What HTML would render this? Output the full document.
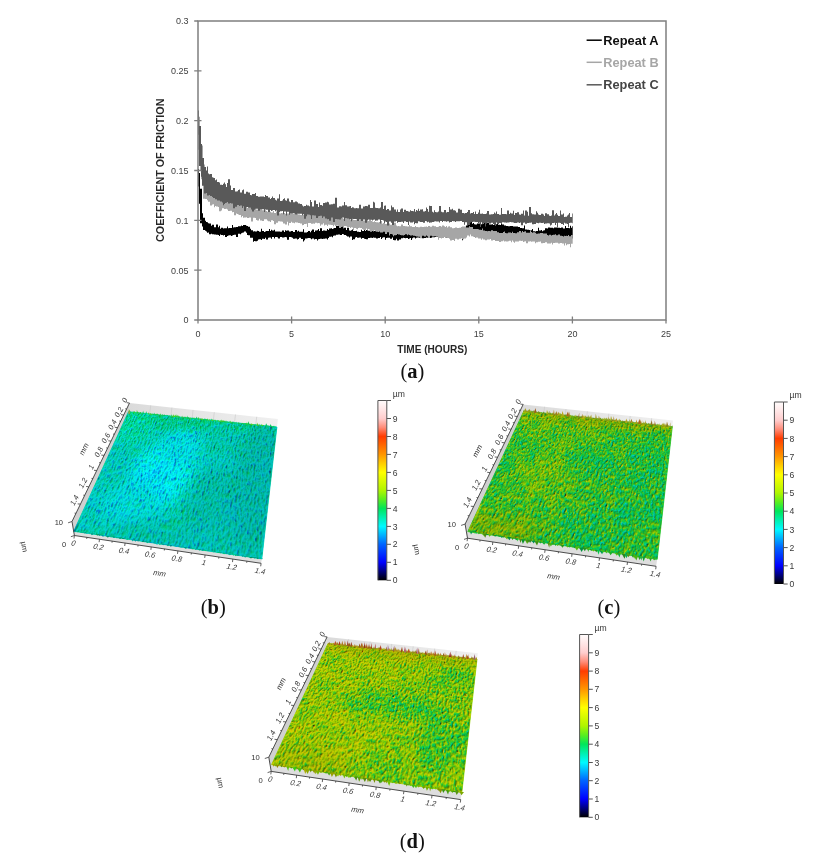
<!DOCTYPE html>
<html lang="en"><head><meta charset="utf-8"><title>Figure</title>
<style>html,body{margin:0;padding:0;background:#fff}body{width:813px;height:867px;position:relative;overflow:hidden}svg{position:absolute;left:0;top:0;display:block}.sf{position:absolute;left:0;top:0;transform-origin:0 0;overflow:hidden}</style></head><body>
<svg width="813" height="867" viewBox="0 0 813 867"><defs><linearGradient id="cbg" x1="0" y1="0" x2="0" y2="1"><stop offset="0.000" stop-color="#fffcfc"/><stop offset="0.050" stop-color="#ffe6e6"/><stop offset="0.100" stop-color="#ffcdcd"/><stop offset="0.150" stop-color="#ff8c78"/><stop offset="0.200" stop-color="#ff3c00"/><stop offset="0.250" stop-color="#ff6900"/><stop offset="0.300" stop-color="#ff9600"/><stop offset="0.350" stop-color="#ffcd00"/><stop offset="0.400" stop-color="#ffff00"/><stop offset="0.450" stop-color="#d7fa00"/><stop offset="0.500" stop-color="#aff500"/><stop offset="0.550" stop-color="#5aee1e"/><stop offset="0.600" stop-color="#00e65a"/><stop offset="0.650" stop-color="#00f0af"/><stop offset="0.700" stop-color="#00faff"/><stop offset="0.750" stop-color="#00afff"/><stop offset="0.800" stop-color="#0064ff"/><stop offset="0.850" stop-color="#0032ff"/><stop offset="0.900" stop-color="#0000ff"/><stop offset="0.950" stop-color="#000080"/><stop offset="1.000" stop-color="#000000"/></linearGradient>
<linearGradient id="bw" x1="0" y1="0" x2="1" y2="0"><stop offset="0" stop-color="#dadada"/><stop offset="0.5" stop-color="#e6e6e6"/><stop offset="1" stop-color="#f0f0f0"/></linearGradient></defs><path d="M129.5 403.0L277.9 419.1L276.5 430.4L128.1 415.4Z" fill="url(#bw)"/>
<path d="M150.7 405.3L149.3 417.6M171.9 407.6L170.5 419.7M193.1 409.9L191.7 421.8M214.3 412.2L212.9 424.0M235.5 414.5L234.1 426.1M256.7 416.8L255.3 428.3" fill="none" stroke="#c9c9c9" stroke-width="0.6"/>
<path d="M129.5 403.0L72.0 521.5L74.4 535.5L128.1 415.4Z" fill="#d0d0d0"/>
<path d="M73.7 531.3L261.8 558.9L261.1 563.3L74.4 535.5Z" fill="#dedede"/>
<path d="M128.5 411.7L276.9 427.0L261.8 558.9L73.7 531.3Z" fill="#00cfb0" stroke="#00cfb0" stroke-width="0.8"/>
<path d="M523.2 404.4L673.0 420.6L671.6 432.0L521.7 416.9Z" fill="url(#bw)"/>
<path d="M544.6 406.7L543.1 419.1M566.0 409.0L564.5 421.2M587.4 411.3L585.9 423.4M608.8 413.7L607.4 425.6M630.2 416.0L628.8 427.7M651.6 418.3L650.2 429.9" fill="none" stroke="#c9c9c9" stroke-width="0.6"/>
<path d="M523.2 404.4L465.1 524.1L467.5 538.2L521.7 416.9Z" fill="#d0d0d0"/>
<path d="M467.8 531.6L657.2 559.3L656.1 566.3L467.5 538.2Z" fill="#dedede"/>
<path d="M523.8 411.0L672.3 426.7L657.2 559.3L467.8 531.6Z" fill="#2ec82e" stroke="#2ec82e" stroke-width="0.8"/>
<path d="M327.1 636.9L477.8 653.3L476.3 664.7L325.7 649.5Z" fill="url(#bw)"/>
<path d="M348.6 639.2L347.2 651.7M370.2 641.6L368.7 653.9M391.7 643.9L390.2 656.0M413.2 646.3L411.7 658.2M434.7 648.6L433.3 660.4M456.2 650.9L454.8 662.5" fill="none" stroke="#c9c9c9" stroke-width="0.6"/>
<path d="M327.1 636.9L268.8 757.2L271.2 771.4L325.7 649.5Z" fill="#d0d0d0"/>
<path d="M271.6 764.6L461.8 792.5L460.7 799.6L271.2 771.4Z" fill="#dedede"/>
<path d="M328.0 643.5L477.0 659.2L461.8 792.5L271.6 764.6Z" fill="#95d000" stroke="#95d000" stroke-width="0.8"/></svg>
<div class="sf" style="width:220px;height:220px;transform:matrix3d(0.6138795,-0.02399776,0,-0.0002190905,-0.3211731,0.02447611,0,-0.0009771423,0,0,1,0,128.499,411.701,0,1)"><svg width="220" height="220" viewBox="0 0 220 220"><defs><filter id="fb" x="0" y="0" width="220" height="220" filterUnits="userSpaceOnUse" color-interpolation-filters="sRGB"><feGaussianBlur in="SourceGraphic" stdDeviation="9" result="b0"/><feColorMatrix in="b0" type="matrix" values="1 0 0 0 0 1 0 0 0 0 1 0 0 0 0 0 0 0 0 1" result="base"/><feColorMatrix in="b0" type="matrix" values="0 1 0 0 0 0 1 0 0 0 0 1 0 0 0 0 0 0 0 1" result="bri"/><feTurbulence type="fractalNoise" baseFrequency="0.48 0.12" numOctaves="3" seed="3" result="t"/><feColorMatrix in="t" type="matrix" values="0.15 0 0 0 0.175 0.15 0 0 0 0.175 0.15 0 0 0 0.175 0 0 0 0 1" result="n"/><feColorMatrix in="t" type="matrix" values="0 0 0.28 0 0.8684 0 0 0.28 0 0.8684 0 0 0.28 0 0.8684 0 0 0 0 1" result="ns"/><feTurbulence type="fractalNoise" baseFrequency="0.03 0.02" numOctaves="2" seed="10" result="tl"/><feColorMatrix in="tl" type="matrix" values="0.05 0 0 0 0.225 0.05 0 0 0 0.225 0.05 0 0 0 0.225 0 0 0 0 1" result="nl"/><feComposite in="base" in2="n" operator="arithmetic" k1="0" k2="1" k3="1" k4="-0.25" result="h1"/><feComposite in="h1" in2="nl" operator="arithmetic" k1="0" k2="1" k3="1" k4="-0.25" result="h2"/><feComposite in="h2" in2="ns" operator="arithmetic" k1="0" k2="1" k3="1" k4="-1" result="h"/><feComponentTransfer in="h" result="col"><feFuncR type="table" tableValues="0.000 0.000 0.000 0.000 0.000 0.000 0.000 0.000 0.000 0.353 0.686 0.843 1.000 1.000 1.000 1.000 1.000 1.000 1.000 1.000 1.000"/><feFuncG type="table" tableValues="0.000 0.000 0.000 0.196 0.392 0.686 0.980 0.941 0.902 0.933 0.961 0.980 1.000 0.804 0.588 0.412 0.235 0.549 0.804 0.902 0.988"/><feFuncB type="table" tableValues="0.000 0.502 1.000 1.000 1.000 1.000 1.000 0.686 0.353 0.118 0.000 0.000 0.000 0.000 0.000 0.000 0.000 0.471 0.804 0.902 0.988"/></feComponentTransfer><feComposite in="n" in2="ns" operator="arithmetic" k1="0" k2="1" k3="1" k4="-0.7" result="nn"/><feConvolveMatrix in="nn" order="3" kernelMatrix="-1 -0.5 0 -0.5 0 0.5 0 0.5 1" divisor="1" bias="0.5" preserveAlpha="true" edgeMode="duplicate" result="sh"/><feComposite in="col" in2="sh" operator="arithmetic" k1="2" k2="0" k3="0" k4="0" result="m1"/><feComposite in="m1" in2="bri" operator="arithmetic" k1="1.05" k2="0" k3="0" k4="0" result="m2"/><feGaussianBlur in="m2" stdDeviation="0.65"/></filter></defs><g filter="url(#fb)"><rect width="220" height="220" fill="#54cc00"/><ellipse cx="80" cy="110" rx="40" ry="60" fill="#4eed00"/><ellipse cx="95" cy="60" rx="30" ry="35" fill="#4fe000"/><ellipse cx="55" cy="170" rx="35" ry="35" fill="#50db00"/><ellipse cx="110" cy="10" rx="120" ry="16" fill="#5dcc00"/><ellipse cx="200" cy="110" rx="30" ry="110" fill="#54b800"/><ellipse cx="150" cy="150" rx="30" ry="60" fill="#54bd00"/><ellipse cx="20" cy="30" rx="28" ry="36" fill="#5bd900"/><ellipse cx="120" cy="205" rx="80" ry="18" fill="#54c200"/><ellipse cx="150" cy="45" rx="30" ry="25" fill="#57c700"/></g></svg></div>
<div class="sf" style="width:220px;height:220px;transform:matrix3d(0.5366528,-0.01662097,0,-0.0002056831,-0.7216362,0.01717812,0,-0.0009983266,0,0,1,0,523.7855,411.0288,0,1)"><svg width="220" height="220" viewBox="0 0 220 220"><defs><filter id="fc" x="0" y="0" width="220" height="220" filterUnits="userSpaceOnUse" color-interpolation-filters="sRGB"><feGaussianBlur in="SourceGraphic" stdDeviation="10" result="b0"/><feColorMatrix in="b0" type="matrix" values="1 0 0 0 0 1 0 0 0 0 1 0 0 0 0 0 0 0 0 1" result="base"/><feColorMatrix in="b0" type="matrix" values="0 1 0 0 0 0 1 0 0 0 0 1 0 0 0 0 0 0 0 1" result="bri"/><feTurbulence type="fractalNoise" baseFrequency="0.40 0.17" numOctaves="3" seed="5" result="t"/><feColorMatrix in="t" type="matrix" values="0.3 0 0 0 0.1 0.3 0 0 0 0.1 0.3 0 0 0 0.1 0 0 0 0 1" result="n"/><feColorMatrix in="t" type="matrix" values="0 0 0.9 0 -0.594 0 0 0.9 0 -0.594 0 0 0.9 0 -0.594 0 0 0 0 1" result="ns"/><feTurbulence type="fractalNoise" baseFrequency="0.06 0.04" numOctaves="2" seed="12" result="tl"/><feColorMatrix in="tl" type="matrix" values="0.1 0 0 0 0.2 0.1 0 0 0 0.2 0.1 0 0 0 0.2 0 0 0 0 1" result="nl"/><feComposite in="base" in2="n" operator="arithmetic" k1="0" k2="1" k3="1" k4="-0.25" result="h1"/><feComposite in="h1" in2="nl" operator="arithmetic" k1="0" k2="1" k3="1" k4="-0.25" result="h2"/><feComposite in="h2" in2="ns" operator="arithmetic" k1="0" k2="1" k3="1" k4="0" result="h"/><feComponentTransfer in="h" result="col"><feFuncR type="table" tableValues="0.000 0.000 0.000 0.000 0.000 0.000 0.000 0.000 0.000 0.353 0.686 0.843 1.000 1.000 1.000 1.000 1.000 1.000 1.000 1.000 1.000"/><feFuncG type="table" tableValues="0.000 0.000 0.000 0.196 0.392 0.686 0.980 0.941 0.902 0.933 0.961 0.980 1.000 0.804 0.588 0.412 0.235 0.549 0.804 0.902 0.988"/><feFuncB type="table" tableValues="0.000 0.502 1.000 1.000 1.000 1.000 1.000 0.686 0.353 0.118 0.000 0.000 0.000 0.000 0.000 0.000 0.000 0.471 0.804 0.902 0.988"/></feComponentTransfer><feComposite in="n" in2="ns" operator="arithmetic" k1="0" k2="1" k3="1" k4="0" result="nn"/><feConvolveMatrix in="nn" order="3" kernelMatrix="-0.9 -0.45 0 -0.45 0 0.45 0 0.45 0.9" divisor="1" bias="0.5" preserveAlpha="true" edgeMode="duplicate" result="sh"/><feComposite in="col" in2="sh" operator="arithmetic" k1="2" k2="0" k3="0" k4="0" result="m1"/><feComposite in="m1" in2="bri" operator="arithmetic" k1="0.9875" k2="0" k3="0" k4="0" result="m2"/><feGaussianBlur in="m2" stdDeviation="0.65"/></filter></defs><g filter="url(#fc)"><rect width="220" height="220" fill="#6ecc00"/><ellipse cx="66" cy="120" rx="40" ry="45" fill="#77cc00"/><ellipse cx="195" cy="110" rx="30" ry="90" fill="#69cc00"/><ellipse cx="150" cy="190" rx="50" ry="30" fill="#69cc00"/><ellipse cx="120" cy="90" rx="30" ry="30" fill="#6acc00"/><ellipse cx="60" cy="30" rx="70" ry="30" fill="#74cc00"/><ellipse cx="40" cy="205" rx="50" ry="18" fill="#7cbd00"/><ellipse cx="110" cy="5" rx="120" ry="9" fill="#85b200"/></g></svg></div>
<div class="sf" style="width:220px;height:220px;transform:matrix3d(0.5797153,-0.06344358,0,-0.0002047717,-0.5277664,-0.2142095,0,-0.001000147,0,0,1,0,327.9717,643.4731,0,1)"><svg width="220" height="220" viewBox="0 0 220 220"><defs><filter id="fd" x="0" y="0" width="220" height="220" filterUnits="userSpaceOnUse" color-interpolation-filters="sRGB"><feGaussianBlur in="SourceGraphic" stdDeviation="10" result="b0"/><feColorMatrix in="b0" type="matrix" values="1 0 0 0 0 1 0 0 0 0 1 0 0 0 0 0 0 0 0 1" result="base"/><feColorMatrix in="b0" type="matrix" values="0 1 0 0 0 0 1 0 0 0 0 1 0 0 0 0 0 0 0 1" result="bri"/><feTurbulence type="fractalNoise" baseFrequency="0.40 0.17" numOctaves="3" seed="8" result="t"/><feColorMatrix in="t" type="matrix" values="0.32 0 0 0 0.09 0.32 0 0 0 0.09 0.32 0 0 0 0.09 0 0 0 0 1" result="n"/><feColorMatrix in="t" type="matrix" values="0 0 0.9 0 -0.594 0 0 0.9 0 -0.594 0 0 0.9 0 -0.594 0 0 0 0 1" result="ns"/><feTurbulence type="fractalNoise" baseFrequency="0.06 0.04" numOctaves="2" seed="15" result="tl"/><feColorMatrix in="tl" type="matrix" values="0.1 0 0 0 0.2 0.1 0 0 0 0.2 0.1 0 0 0 0.2 0 0 0 0 1" result="nl"/><feComposite in="base" in2="n" operator="arithmetic" k1="0" k2="1" k3="1" k4="-0.25" result="h1"/><feComposite in="h1" in2="nl" operator="arithmetic" k1="0" k2="1" k3="1" k4="-0.25" result="h2"/><feComposite in="h2" in2="ns" operator="arithmetic" k1="0" k2="1" k3="1" k4="0" result="h"/><feComponentTransfer in="h" result="col"><feFuncR type="table" tableValues="0.000 0.000 0.000 0.000 0.000 0.000 0.000 0.000 0.000 0.353 0.686 0.843 1.000 1.000 1.000 1.000 1.000 1.000 1.000 1.000 1.000"/><feFuncG type="table" tableValues="0.000 0.000 0.000 0.196 0.392 0.686 0.980 0.941 0.902 0.933 0.961 0.980 1.000 0.804 0.588 0.412 0.235 0.549 0.804 0.902 0.988"/><feFuncB type="table" tableValues="0.000 0.502 1.000 1.000 1.000 1.000 1.000 0.686 0.353 0.118 0.000 0.000 0.000 0.000 0.000 0.000 0.000 0.471 0.804 0.902 0.988"/></feComponentTransfer><feComposite in="n" in2="ns" operator="arithmetic" k1="0" k2="1" k3="1" k4="0" result="nn"/><feConvolveMatrix in="nn" order="3" kernelMatrix="-0.9 -0.45 0 -0.45 0 0.45 0 0.45 0.9" divisor="1" bias="0.5" preserveAlpha="true" edgeMode="duplicate" result="sh"/><feComposite in="col" in2="sh" operator="arithmetic" k1="2" k2="0" k3="0" k4="0" result="m1"/><feComposite in="m1" in2="bri" operator="arithmetic" k1="1.025" k2="0" k3="0" k4="0" result="m2"/><feGaussianBlur in="m2" stdDeviation="0.65"/></filter></defs><g filter="url(#fd)"><rect width="220" height="220" fill="#80cc00"/><ellipse cx="120" cy="105" rx="60" ry="25" fill="#71cc00"/><ellipse cx="190" cy="150" rx="30" ry="50" fill="#71cc00"/><ellipse cx="60" cy="50" rx="50" ry="35" fill="#82cc00"/><ellipse cx="60" cy="165" rx="50" ry="35" fill="#82cc00"/><ellipse cx="150" cy="200" rx="50" ry="20" fill="#77cc00"/><ellipse cx="110" cy="5" rx="120" ry="9" fill="#8fb200"/><ellipse cx="185" cy="50" rx="30" ry="30" fill="#75cc00"/><ellipse cx="45" cy="205" rx="45" ry="16" fill="#87bf00"/></g></svg></div>
<svg width="813" height="867" viewBox="0 0 813 867">
<path d="M198.0 169.0V169.0H199.0V173.1H200.0V188.7H202.0V213.2H203.0V217.7H205.0V220.8H206.0V222.0H207.0V222.3H208.0V223.2H209.0V223.5H211.0V225.7H212.0V224.7H214.0V227.3H216.0V224.4H218.0V227.2H219.0V225.8H220.0V228.7H221.0V227.8H223.0V228.4H224.0V228.3H225.0V228.2H227.0V226.6H228.0V228.3H229.0V228.0H231.0V227.9H232.0V225.0H233.0V227.6H234.0V227.3H236.0V227.1H238.0V226.2H240.0V226.3H241.0V225.5H242.0V225.9H243.0V224.9H244.0V225.1H246.0V225.8H247.0V226.1H248.0V226.7H250.0V228.7H251.0V230.3H253.0V231.4H254.0V231.3H255.0V231.5H257.0V230.8H258.0V231.0H259.0V231.7H261.0V228.8H262.0V230.9H264.0V232.0H265.0V231.4H266.0V230.9H268.0V231.0H269.0V228.9H270.0V230.9H271.0V229.8H272.0V230.5H274.0V229.8H275.0V231.4H277.0V231.5H278.0V231.4H280.0V231.7H282.0V230.6H284.0V232.0H285.0V230.2H286.0V230.8H287.0V230.4H289.0V231.4H291.0V230.9H292.0V231.0H293.0V231.9H295.0V229.9H297.0V231.5H298.0V230.7H299.0V231.7H301.0V231.8H303.0V229.3H304.0V232.6H305.0V232.6H307.0V232.1H308.0V230.9H310.0V232.3H311.0V230.8H312.0V229.6H314.0V231.9H315.0V230.4H317.0V230.3H318.0V228.9H319.0V231.1H320.0V228.3H322.0V230.9H323.0V230.6H325.0V230.8H327.0V229.1H328.0V230.1H329.0V228.4H331.0V228.3H332.0V229.1H333.0V228.6H334.0V228.1H335.0V227.9H336.0V226.0H338.0V225.7H340.0V226.7H342.0V226.1H343.0V228.3H344.0V227.8H346.0V230.0H347.0V227.7H349.0V230.5H350.0V230.8H351.0V230.3H352.0V229.4H353.0V231.0H355.0V231.0H356.0V230.7H357.0V231.7H359.0V231.9H361.0V229.8H362.0V231.1H364.0V228.3H365.0V230.9H366.0V229.9H368.0V230.7H370.0V231.4H372.0V230.7H373.0V230.9H374.0V231.1H376.0V230.7H378.0V230.6H380.0V231.4H381.0V231.1H382.0V228.5H383.0V230.3H385.0V232.1H386.0V232.0H387.0V229.5H389.0V231.9H390.0V232.2H392.0V232.2H393.0V232.3H394.0V229.0H396.0V232.5H397.0V232.4H399.0V229.6H401.0V232.1H403.0V232.1H404.0V232.4H405.0V231.7H406.0V232.1H408.0V232.1H409.0V232.3H410.0V232.2H411.0V231.4H412.0V233.1H413.0V232.5H415.0V232.6H416.0V233.1H417.0V233.4H419.0V232.2H421.0V231.9H422.0V233.3H424.0V233.3H426.0V233.9H427.0V232.8H428.0V233.4H430.0V232.3H431.0V232.9H432.0V232.0H433.0V231.2H435.0V233.0H437.0V233.4H439.0V233.1H440.0V232.1H441.0V233.4H443.0V233.5H445.0V230.5H446.0V232.6H448.0V231.9H449.0V233.2H450.0V233.0H452.0V233.0H453.0V232.9H455.0V231.4H457.0V232.0H459.0V231.0H461.0V232.4H462.0V232.4H463.0V233.3H464.0V233.7H465.0V230.0H466.0V225.5H467.0V223.5H468.0V223.0H469.0V223.6H470.0V222.3H471.0V221.9H472.0V223.8H473.0V223.1H474.0V224.2H475.0V224.4H477.0V223.4H478.0V224.0H479.0V223.5H481.0V224.3H482.0V223.0H483.0V223.4H484.0V221.8H485.0V223.2H487.0V222.9H489.0V224.4H490.0V224.5H491.0V224.4H492.0V224.2H493.0V225.0H495.0V224.2H497.0V223.8H498.0V224.8H500.0V224.9H501.0V224.1H502.0V224.4H504.0V225.5H506.0V225.9H508.0V226.3H510.0V225.9H511.0V225.9H513.0V226.6H515.0V226.5H516.0V226.4H518.0V227.1H519.0V226.9H520.0V227.9H522.0V228.2H524.0V225.5H525.0V229.4H527.0V229.8H529.0V230.0H530.0V230.4H531.0V230.2H532.0V228.9H533.0V231.3H535.0V231.6H536.0V230.9H538.0V227.8H539.0V230.4H541.0V230.0H542.0V231.3H543.0V230.6H544.0V230.3H545.0V228.3H547.0V228.6H548.0V227.4H550.0V227.7H552.0V227.7H553.0V228.2H554.0V227.5H556.0V227.6H558.0V227.7H559.0V227.7H560.0V228.1H561.0V227.5H563.0V228.4H564.0V228.6H565.0V225.9H566.0V228.1H567.0V228.1H569.0V228.2H570.0V225.8H571.0V227.7H572.0V226.3H572.7V238.6H572.0V240.6H571.0V241.8H570.0V240.5H569.0V239.0H567.0V238.5H566.0V238.6H565.0V240.1H564.0V239.8H563.0V240.2H561.0V238.2H560.0V238.4H559.0V238.6H558.0V238.2H556.0V239.1H554.0V238.1H553.0V238.6H552.0V238.1H550.0V240.9H548.0V237.7H547.0V236.8H545.0V236.0H544.0V236.2H543.0V236.4H542.0V235.9H541.0V236.9H539.0V238.2H538.0V235.8H536.0V236.6H535.0V237.2H533.0V239.2H532.0V236.5H531.0V238.8H530.0V238.0H529.0V235.7H527.0V238.3H525.0V236.2H524.0V236.0H522.0V236.7H520.0V236.7H519.0V236.3H518.0V236.2H516.0V236.3H515.0V235.8H513.0V236.2H511.0V235.3H510.0V235.6H508.0V235.8H506.0V235.2H504.0V235.7H502.0V235.6H501.0V236.4H500.0V236.2H498.0V235.6H497.0V235.5H495.0V235.2H493.0V237.6H492.0V235.5H491.0V234.5H490.0V235.7H489.0V234.0H487.0V234.2H485.0V234.5H484.0V233.7H483.0V235.2H482.0V234.7H481.0V236.8H479.0V233.2H478.0V233.9H477.0V233.4H475.0V236.4H474.0V233.2H473.0V232.7H472.0V232.6H471.0V232.5H470.0V233.0H469.0V231.9H468.0V231.7H467.0V235.0H466.0V235.6H465.0V237.0H464.0V236.9H463.0V240.2H462.0V237.3H461.0V237.7H459.0V238.1H457.0V237.0H455.0V237.1H453.0V236.7H452.0V237.4H450.0V237.4H449.0V238.1H448.0V237.6H446.0V237.4H445.0V237.0H443.0V237.8H441.0V237.2H440.0V236.9H439.0V237.0H437.0V237.0H435.0V237.2H433.0V237.2H432.0V237.8H431.0V237.9H430.0V238.0H428.0V237.7H427.0V237.6H426.0V237.9H424.0V238.2H422.0V237.7H421.0V237.7H419.0V237.6H417.0V237.8H416.0V238.4H415.0V237.5H413.0V238.2H412.0V239.9H411.0V238.0H410.0V238.6H409.0V238.9H408.0V238.1H406.0V238.3H405.0V238.0H404.0V237.7H403.0V238.3H401.0V239.6H399.0V240.6H397.0V238.7H396.0V240.3H394.0V239.9H393.0V237.6H392.0V238.8H390.0V237.8H389.0V237.8H387.0V238.1H386.0V239.8H385.0V237.2H383.0V237.7H382.0V238.9H381.0V237.1H380.0V238.1H378.0V238.5H376.0V237.7H374.0V237.6H373.0V237.9H372.0V237.7H370.0V237.9H368.0V239.3H366.0V238.9H365.0V238.8H364.0V237.9H362.0V238.7H361.0V237.6H359.0V237.8H357.0V236.9H356.0V237.4H355.0V239.2H353.0V240.0H352.0V236.6H351.0V236.4H350.0V237.6H349.0V236.4H347.0V235.7H346.0V234.9H344.0V234.3H343.0V233.9H342.0V235.1H340.0V234.4H338.0V234.8H336.0V235.4H335.0V235.6H334.0V235.8H333.0V237.2H332.0V236.6H331.0V236.7H329.0V238.1H328.0V239.6H327.0V238.6H325.0V238.7H323.0V239.0H322.0V238.8H320.0V239.0H319.0V239.2H318.0V240.4H317.0V239.1H315.0V239.5H314.0V238.4H312.0V239.3H311.0V238.3H310.0V238.1H308.0V238.2H307.0V238.6H305.0V240.3H304.0V241.4H303.0V238.9H301.0V237.7H299.0V238.9H298.0V239.5H297.0V238.4H295.0V238.7H293.0V237.7H292.0V237.2H291.0V237.1H289.0V239.8H287.0V237.3H286.0V237.1H285.0V237.2H284.0V237.6H282.0V237.0H280.0V238.6H278.0V237.3H277.0V237.1H275.0V238.4H274.0V236.9H272.0V238.8H271.0V237.6H270.0V237.4H269.0V237.8H268.0V239.6H266.0V237.8H265.0V239.0H264.0V238.7H262.0V240.1H261.0V239.3H259.0V239.6H258.0V240.8H257.0V241.3H255.0V240.9H254.0V241.7H253.0V237.8H251.0V237.7H250.0V235.3H248.0V235.1H247.0V232.8H246.0V231.6H244.0V232.5H243.0V232.7H242.0V233.2H241.0V234.3H240.0V233.7H238.0V236.9H236.0V234.7H234.0V234.9H233.0V235.4H232.0V236.0H231.0V235.3H229.0V235.6H228.0V235.9H227.0V236.9H225.0V235.0H224.0V235.6H223.0V235.0H221.0V234.6H220.0V235.9H219.0V234.9H218.0V234.8H216.0V234.4H214.0V234.2H212.0V233.7H211.0V234.3H209.0V232.6H208.0V232.7H207.0V231.6H206.0V230.8H205.0V230.1H203.0V226.6H202.0V223.3H200.0V203.8H199.0V186.5H198.0Z" fill="#000"/>
<path d="M198.0 116.7V116.7H200.0V130.0H201.0V145.4H203.0V164.4H205.0V170.9H207.0V176.6H208.0V179.4H210.0V185.4H212.0V185.2H213.0V188.0H214.0V189.9H215.0V190.5H216.0V192.0H218.0V193.3H219.0V195.5H221.0V196.3H222.0V196.9H224.0V197.3H226.0V198.3H227.0V198.3H228.0V199.1H230.0V198.8H232.0V198.0H233.0V201.0H234.0V202.0H236.0V202.7H237.0V203.6H238.0V204.4H239.0V203.4H240.0V204.7H241.0V203.8H242.0V204.7H243.0V206.4H244.0V207.2H246.0V206.6H247.0V207.9H249.0V207.6H251.0V207.5H253.0V208.0H255.0V207.9H256.0V209.5H257.0V209.6H259.0V209.9H260.0V209.5H262.0V210.3H264.0V210.3H266.0V210.9H267.0V211.7H268.0V211.6H270.0V211.8H271.0V212.5H273.0V211.1H274.0V212.9H276.0V211.6H278.0V213.2H280.0V213.5H281.0V213.1H282.0V213.2H283.0V213.0H285.0V213.7H287.0V213.6H288.0V213.5H289.0V213.0H291.0V213.2H292.0V213.4H294.0V212.9H295.0V214.2H296.0V213.2H297.0V213.8H298.0V214.5H300.0V214.9H302.0V214.6H303.0V215.0H304.0V214.4H306.0V214.9H307.0V215.0H308.0V214.7H309.0V214.2H311.0V213.9H313.0V214.3H314.0V214.1H315.0V214.4H316.0V214.5H317.0V214.8H318.0V214.6H319.0V215.5H320.0V215.1H321.0V215.1H323.0V215.3H324.0V215.7H325.0V214.3H327.0V213.8H328.0V216.3H329.0V216.4H331.0V216.7H333.0V217.2H334.0V217.5H335.0V216.7H336.0V217.2H337.0V218.3H338.0V216.6H339.0V218.9H341.0V217.4H343.0V218.8H344.0V218.7H346.0V218.8H347.0V217.5H349.0V219.4H350.0V219.5H351.0V219.8H352.0V218.1H353.0V219.8H354.0V220.0H356.0V219.6H357.0V219.5H358.0V220.0H359.0V220.2H360.0V219.8H361.0V220.5H362.0V220.0H363.0V220.5H364.0V220.4H365.0V220.2H366.0V219.7H367.0V219.7H368.0V220.9H369.0V218.5H370.0V219.2H371.0V221.1H372.0V221.4H373.0V222.0H374.0V221.3H375.0V222.0H376.0V222.3H378.0V222.6H379.0V222.1H380.0V221.1H382.0V223.7H383.0V222.9H385.0V223.9H387.0V224.5H388.0V223.9H389.0V223.4H390.0V224.7H392.0V224.4H393.0V225.1H394.0V222.8H396.0V225.6H397.0V226.2H398.0V226.1H399.0V226.3H400.0V226.2H401.0V224.6H403.0V226.0H404.0V225.9H405.0V226.3H407.0V226.6H408.0V226.6H409.0V224.9H410.0V226.2H412.0V226.9H413.0V226.9H415.0V226.0H416.0V227.1H418.0V227.3H420.0V226.7H422.0V226.9H424.0V226.8H426.0V226.5H427.0V227.0H428.0V226.0H430.0V226.7H432.0V225.7H434.0V226.3H436.0V226.9H438.0V226.7H439.0V226.0H441.0V226.8H442.0V225.5H444.0V226.3H445.0V227.1H446.0V225.9H447.0V227.4H448.0V226.4H449.0V226.2H450.0V227.2H452.0V228.2H454.0V228.0H455.0V227.5H457.0V228.1H459.0V227.7H461.0V227.0H462.0V226.4H464.0V226.5H466.0V227.5H467.0V227.4H469.0V226.3H470.0V227.1H471.0V227.1H473.0V229.1H475.0V229.0H476.0V229.1H478.0V229.2H479.0V229.8H480.0V229.8H481.0V229.9H482.0V228.6H483.0V230.5H485.0V230.9H487.0V231.3H488.0V231.1H490.0V231.2H491.0V230.3H493.0V230.9H495.0V231.1H497.0V232.3H499.0V233.0H501.0V232.9H503.0V232.1H504.0V231.6H505.0V232.9H506.0V233.2H508.0V232.6H509.0V232.6H511.0V233.0H512.0V231.7H513.0V233.1H514.0V233.1H515.0V233.3H517.0V232.3H519.0V230.9H521.0V232.4H522.0V231.0H523.0V231.9H524.0V231.5H525.0V231.3H526.0V232.8H528.0V232.8H530.0V231.1H531.0V232.1H532.0V232.7H533.0V232.3H535.0V232.8H536.0V233.7H538.0V233.6H540.0V233.1H541.0V233.1H543.0V233.5H545.0V233.6H547.0V234.9H548.0V235.6H549.0V234.7H551.0V235.6H552.0V234.9H553.0V234.8H555.0V234.2H556.0V235.3H558.0V234.6H560.0V235.8H562.0V236.0H563.0V236.4H564.0V235.7H565.0V235.9H566.0V235.8H567.0V236.0H568.0V234.9H569.0V236.2H570.0V236.2H571.0V235.1H572.7V243.8H571.0V247.2H570.0V244.1H569.0V244.2H568.0V244.3H567.0V245.3H566.0V243.2H565.0V245.5H564.0V243.6H563.0V243.5H562.0V243.1H560.0V243.5H558.0V242.7H556.0V242.7H555.0V242.9H553.0V244.5H552.0V242.7H551.0V243.5H549.0V243.5H548.0V243.6H547.0V242.2H545.0V242.9H543.0V243.3H541.0V241.6H540.0V241.7H538.0V242.2H536.0V243.3H535.0V241.6H533.0V241.6H532.0V241.8H531.0V241.2H530.0V241.6H528.0V243.3H526.0V241.3H525.0V241.5H524.0V242.0H523.0V240.7H522.0V240.9H521.0V240.8H519.0V241.4H517.0V241.4H515.0V242.7H514.0V241.8H513.0V240.5H512.0V242.3H511.0V240.8H509.0V241.3H508.0V241.4H506.0V241.2H505.0V241.6H504.0V240.4H503.0V241.2H501.0V241.9H499.0V241.1H497.0V241.1H495.0V239.9H493.0V240.4H491.0V239.0H490.0V239.4H488.0V239.4H487.0V240.2H485.0V239.4H483.0V238.5H482.0V239.8H481.0V238.5H480.0V238.4H479.0V238.5H478.0V237.5H476.0V238.1H475.0V236.7H473.0V236.2H471.0V234.5H470.0V236.4H469.0V235.6H467.0V237.5H466.0V238.6H464.0V239.2H462.0V238.2H461.0V238.7H459.0V239.4H457.0V238.8H455.0V241.1H454.0V239.9H452.0V240.4H450.0V238.7H449.0V237.9H448.0V237.9H447.0V237.5H446.0V237.9H445.0V236.9H444.0V238.0H442.0V238.5H441.0V238.1H439.0V239.8H438.0V236.8H436.0V236.2H434.0V236.4H432.0V235.8H430.0V237.9H428.0V236.2H427.0V235.6H426.0V236.4H424.0V235.7H422.0V238.2H420.0V236.7H418.0V236.4H416.0V235.9H415.0V235.7H413.0V235.2H412.0V235.4H410.0V235.0H409.0V234.6H408.0V235.2H407.0V234.2H405.0V235.1H404.0V235.6H403.0V235.3H401.0V235.1H400.0V234.4H399.0V234.6H398.0V234.1H397.0V235.0H396.0V235.2H394.0V236.3H393.0V234.4H392.0V233.9H390.0V235.6H389.0V232.2H388.0V232.3H387.0V233.9H385.0V231.8H383.0V232.5H382.0V232.5H380.0V231.4H379.0V231.9H378.0V231.7H376.0V231.3H375.0V230.2H374.0V231.6H373.0V230.4H372.0V231.1H371.0V231.0H370.0V229.4H369.0V228.9H368.0V230.6H367.0V228.4H366.0V230.2H365.0V230.0H364.0V229.8H363.0V229.0H362.0V228.1H361.0V228.0H360.0V227.8H359.0V227.9H358.0V229.2H357.0V228.7H356.0V227.9H354.0V230.3H353.0V227.4H352.0V227.2H351.0V228.1H350.0V227.0H349.0V226.9H347.0V226.3H346.0V226.1H344.0V228.0H343.0V226.7H341.0V228.1H339.0V225.6H338.0V225.6H337.0V225.7H336.0V225.9H335.0V224.7H334.0V226.3H333.0V225.1H331.0V224.8H329.0V224.6H328.0V226.0H327.0V224.7H325.0V225.6H324.0V223.2H323.0V224.4H321.0V225.8H320.0V223.2H319.0V223.1H318.0V223.2H317.0V222.7H316.0V222.7H315.0V223.8H314.0V223.4H313.0V223.7H311.0V223.0H309.0V223.0H308.0V227.0H307.0V223.7H306.0V224.0H304.0V225.1H303.0V225.3H302.0V223.6H300.0V223.0H298.0V222.5H297.0V222.5H296.0V222.2H295.0V223.2H294.0V222.7H292.0V221.8H291.0V223.0H289.0V225.4H288.0V221.7H287.0V224.4H285.0V223.4H283.0V221.7H282.0V221.6H281.0V221.5H280.0V221.3H278.0V222.7H276.0V224.3H274.0V221.1H273.0V220.3H271.0V221.9H270.0V221.3H268.0V220.4H267.0V219.3H266.0V219.3H264.0V220.9H262.0V220.5H260.0V218.7H259.0V220.5H257.0V220.0H256.0V218.1H255.0V217.7H253.0V221.4H251.0V217.4H249.0V218.1H247.0V217.3H246.0V217.4H244.0V217.8H243.0V216.0H242.0V217.3H241.0V215.1H240.0V214.9H239.0V214.6H238.0V214.0H237.0V213.5H236.0V215.3H234.0V211.9H233.0V212.2H232.0V210.7H230.0V211.1H228.0V209.5H227.0V208.8H226.0V208.9H224.0V208.2H222.0V210.4H221.0V211.2H219.0V207.0H218.0V206.5H216.0V206.1H215.0V207.2H214.0V204.3H213.0V204.5H212.0V205.5H210.0V201.7H208.0V200.3H207.0V198.9H205.0V198.8H203.0V179.3H201.0V170.4H200.0V149.7H198.0Z" fill="#a6a6a6"/>
<path d="M198.0 110.6V110.6H199.0V125.9H201.0V144.0H202.0V158.0H204.0V166.9H206.0V170.4H207.0V166.4H208.0V173.5H209.0V174.3H210.0V174.1H212.0V177.3H213.0V177.8H214.0V178.1H215.0V180.2H216.0V179.4H217.0V182.1H219.0V182.4H220.0V184.8H222.0V185.0H223.0V183.7H224.0V182.6H225.0V184.2H226.0V187.0H227.0V183.0H228.0V179.2H230.0V185.4H231.0V190.1H233.0V188.0H235.0V191.5H237.0V191.2H238.0V190.1H239.0V189.6H240.0V192.6H242.0V190.2H243.0V189.5H244.0V193.8H246.0V191.7H248.0V192.4H250.0V195.0H251.0V195.2H252.0V194.1H254.0V194.1H255.0V193.1H256.0V196.1H258.0V196.7H260.0V196.6H262.0V196.6H264.0V197.0H265.0V195.0H266.0V196.1H268.0V197.5H270.0V199.0H271.0V197.9H272.0V196.4H273.0V198.0H275.0V199.7H276.0V200.6H277.0V198.4H279.0V194.3H280.0V201.1H282.0V200.5H283.0V198.9H284.0V198.2H285.0V200.3H286.0V200.8H287.0V198.6H289.0V201.4H290.0V202.2H291.0V199.9H293.0V202.2H295.0V201.6H297.0V202.3H298.0V203.6H300.0V204.0H302.0V205.5H303.0V206.6H304.0V206.0H306.0V204.7H307.0V205.5H309.0V206.3H310.0V200.1H311.0V201.9H312.0V206.5H314.0V200.4H316.0V203.9H318.0V207.0H319.0V202.4H320.0V205.0H322.0V205.7H323.0V202.9H325.0V202.6H327.0V201.8H328.0V202.3H329.0V204.6H331.0V204.2H333.0V203.8H335.0V197.8H337.0V207.4H339.0V206.3H341.0V206.4H342.0V205.6H344.0V202.0H345.0V205.2H347.0V206.5H349.0V206.3H350.0V206.1H351.0V208.1H352.0V207.2H353.0V207.6H354.0V208.2H356.0V208.0H357.0V208.2H359.0V204.8H361.0V208.5H363.0V206.6H365.0V206.1H367.0V206.2H368.0V204.7H370.0V208.0H372.0V208.0H373.0V201.8H374.0V202.5H375.0V207.8H376.0V207.9H378.0V208.2H380.0V207.6H381.0V202.1H383.0V209.1H384.0V205.8H385.0V205.5H386.0V210.1H387.0V209.0H389.0V210.6H391.0V205.5H392.0V207.3H394.0V209.4H396.0V211.7H397.0V209.5H398.0V212.0H400.0V209.6H401.0V208.6H403.0V211.9H404.0V209.8H406.0V211.0H408.0V211.6H409.0V211.8H410.0V210.3H411.0V211.0H413.0V211.2H414.0V209.0H415.0V211.8H416.0V210.1H417.0V210.7H418.0V208.7H419.0V211.0H420.0V209.5H422.0V209.3H423.0V211.6H425.0V211.0H426.0V207.4H427.0V209.0H428.0V211.7H429.0V205.7H430.0V205.9H432.0V211.7H433.0V212.5H434.0V210.2H435.0V211.9H436.0V212.2H438.0V211.5H439.0V206.1H440.0V206.1H441.0V211.7H442.0V212.3H443.0V212.3H444.0V210.0H446.0V212.6H447.0V212.0H449.0V206.9H450.0V209.4H452.0V208.7H453.0V210.2H455.0V210.8H456.0V212.4H458.0V208.7H460.0V209.7H462.0V212.9H464.0V213.5H465.0V213.0H467.0V212.0H468.0V210.0H470.0V213.4H471.0V212.9H473.0V212.0H474.0V213.9H475.0V211.5H476.0V213.9H478.0V212.4H479.0V209.7H480.0V213.8H481.0V213.7H482.0V213.6H483.0V213.9H485.0V214.0H486.0V213.6H487.0V210.9H489.0V214.6H491.0V214.3H493.0V214.1H494.0V212.4H495.0V213.4H496.0V211.5H497.0V214.1H499.0V214.7H501.0V207.9H502.0V214.0H504.0V214.1H506.0V214.3H507.0V210.6H509.0V213.9H510.0V212.8H511.0V213.5H513.0V210.8H514.0V214.9H515.0V213.0H517.0V212.2H519.0V214.5H520.0V214.7H521.0V213.8H523.0V210.4H524.0V215.5H525.0V210.5H527.0V211.7H528.0V215.7H529.0V207.1H531.0V213.3H532.0V214.2H534.0V214.4H536.0V211.3H537.0V212.8H538.0V214.6H539.0V215.0H541.0V213.7H543.0V214.4H544.0V216.1H545.0V213.3H547.0V214.2H549.0V215.7H550.0V216.0H551.0V215.5H552.0V210.3H554.0V215.6H555.0V214.3H556.0V213.0H557.0V214.7H558.0V216.1H560.0V210.5H561.0V214.6H563.0V213.5H564.0V217.1H565.0V216.7H567.0V215.5H568.0V214.6H569.0V213.0H570.0V217.0H572.0V213.6H572.7V223.3H572.0V222.8H570.0V222.9H569.0V227.2H568.0V223.9H567.0V223.5H565.0V222.7H564.0V224.9H563.0V223.9H561.0V223.1H560.0V222.7H558.0V227.1H557.0V223.1H556.0V224.9H555.0V222.8H554.0V223.1H552.0V224.7H551.0V225.6H550.0V223.6H549.0V223.2H547.0V223.6H545.0V224.1H544.0V222.7H543.0V223.0H541.0V222.7H539.0V223.2H538.0V223.1H537.0V222.7H536.0V224.1H534.0V224.3H532.0V222.5H531.0V222.7H529.0V222.9H528.0V222.9H527.0V223.8H525.0V222.5H524.0V222.8H523.0V225.2H521.0V222.6H520.0V222.9H519.0V222.4H517.0V223.1H515.0V222.9H514.0V222.6H513.0V222.2H511.0V222.1H510.0V222.2H509.0V222.5H507.0V222.8H506.0V222.4H504.0V222.3H502.0V224.0H501.0V223.1H499.0V224.0H497.0V222.4H496.0V226.1H495.0V224.9H494.0V223.9H493.0V222.7H491.0V223.5H489.0V222.7H487.0V223.0H486.0V226.4H485.0V222.9H483.0V224.2H482.0V222.2H481.0V226.9H480.0V222.4H479.0V223.7H478.0V221.9H476.0V221.9H475.0V221.8H474.0V221.7H473.0V222.0H471.0V222.1H470.0V224.9H468.0V225.8H467.0V222.3H465.0V224.7H464.0V222.0H462.0V221.0H460.0V221.2H458.0V221.2H456.0V221.9H455.0V221.3H453.0V220.9H452.0V222.1H450.0V222.6H449.0V221.2H447.0V221.8H446.0V221.3H444.0V220.9H443.0V221.9H442.0V221.1H441.0V221.1H440.0V222.5H439.0V221.6H438.0V221.4H436.0V221.3H435.0V221.6H434.0V222.1H433.0V222.0H432.0V222.6H430.0V222.7H429.0V221.7H428.0V222.3H427.0V221.2H426.0V221.1H425.0V222.8H423.0V222.1H422.0V222.0H420.0V221.6H419.0V221.2H418.0V223.2H417.0V223.3H416.0V222.9H415.0V224.2H414.0V221.7H413.0V222.5H411.0V222.5H410.0V221.6H409.0V225.0H408.0V221.9H406.0V221.3H404.0V223.0H403.0V221.7H401.0V222.1H400.0V221.9H398.0V222.7H397.0V221.1H396.0V221.5H394.0V225.0H392.0V222.7H391.0V221.6H389.0V225.5H387.0V221.9H386.0V221.6H385.0V223.0H384.0V220.5H383.0V220.1H381.0V223.4H380.0V219.4H378.0V220.6H376.0V220.7H375.0V219.5H374.0V219.8H373.0V220.5H372.0V219.8H370.0V219.6H368.0V220.1H367.0V222.7H365.0V219.5H363.0V221.0H361.0V219.5H359.0V220.9H357.0V219.1H356.0V219.0H354.0V219.1H353.0V218.7H352.0V221.3H351.0V219.0H350.0V219.4H349.0V218.5H347.0V218.6H345.0V221.0H344.0V217.5H342.0V218.2H341.0V219.4H339.0V219.3H337.0V219.1H335.0V222.0H333.0V217.6H331.0V220.8H329.0V219.1H328.0V219.2H327.0V218.5H325.0V216.5H323.0V217.9H322.0V215.7H320.0V216.0H319.0V216.2H318.0V218.0H316.0V215.6H314.0V215.3H312.0V219.1H311.0V215.3H310.0V214.7H309.0V214.8H307.0V216.3H306.0V218.7H304.0V214.3H303.0V215.3H302.0V213.7H300.0V213.8H298.0V213.8H297.0V214.5H295.0V213.1H293.0V213.5H291.0V213.2H290.0V214.8H289.0V211.8H287.0V215.5H286.0V211.4H285.0V211.4H284.0V214.2H283.0V211.1H282.0V211.3H280.0V212.2H279.0V215.5H277.0V210.4H276.0V211.3H275.0V210.0H273.0V210.5H272.0V211.0H271.0V209.9H270.0V211.9H268.0V209.7H266.0V209.4H265.0V211.9H264.0V209.3H262.0V209.6H260.0V210.8H258.0V208.8H256.0V208.7H255.0V209.8H254.0V211.5H252.0V209.5H251.0V207.8H250.0V207.8H248.0V207.0H246.0V210.9H244.0V206.5H243.0V208.0H242.0V205.5H240.0V205.9H239.0V205.1H238.0V205.1H237.0V206.7H235.0V208.2H233.0V203.4H231.0V202.9H230.0V203.5H228.0V201.9H227.0V202.8H226.0V203.0H225.0V204.1H224.0V205.3H223.0V202.5H222.0V201.5H220.0V200.5H219.0V200.5H217.0V199.2H216.0V199.2H215.0V198.0H214.0V198.1H213.0V196.9H212.0V196.1H210.0V195.0H209.0V195.5H208.0V195.5H207.0V193.1H206.0V193.5H204.0V185.7H202.0V176.8H201.0V165.9H199.0V134.7H198.0Z" fill="#595959"/>
<path d="M198.0 21.0H666.0V320.0H198.0Z" fill="none" stroke="#7f7f7f" stroke-width="1.5"/>
<path d="M194.2 320.0H198.0M194.2 270.2H201.5M194.2 220.3H201.5M194.2 170.5H201.5M194.2 120.7H201.5M194.2 70.8H201.5M194.2 21.0H198.0M198.0 320.0V323.5M291.6 316.5V323.5M385.2 316.5V323.5M478.8 316.5V323.5M572.4 316.5V323.5M666.0 320.0V323.5" fill="none" stroke="#7f7f7f" stroke-width="1.3"/>
<g font-family="'Liberation Sans',sans-serif" font-size="9" fill="#404040">
<text x="188.5" y="323.3" text-anchor="end">0</text>
<text x="188.5" y="273.5" text-anchor="end">0.05</text>
<text x="188.5" y="223.6" text-anchor="end">0.1</text>
<text x="188.5" y="173.8" text-anchor="end">0.15</text>
<text x="188.5" y="124.0" text-anchor="end">0.2</text>
<text x="188.5" y="74.1" text-anchor="end">0.25</text>
<text x="188.5" y="24.3" text-anchor="end">0.3</text>
<text x="198.0" y="336.8" text-anchor="middle">0</text>
<text x="291.6" y="336.8" text-anchor="middle">5</text>
<text x="385.2" y="336.8" text-anchor="middle">10</text>
<text x="478.8" y="336.8" text-anchor="middle">15</text>
<text x="572.4" y="336.8" text-anchor="middle">20</text>
<text x="666.0" y="336.8" text-anchor="middle">25</text>
</g>
<g font-family="'Liberation Sans',sans-serif" font-weight="bold" fill="#262626">
<text x="397.3" y="352.6" font-size="10" textLength="70" lengthAdjust="spacingAndGlyphs">TIME (HOURS)</text>
<text transform="translate(164.2 242) rotate(-90)" font-size="10.5" textLength="143.5" lengthAdjust="spacingAndGlyphs">COEFFICIENT OF FRICTION</text>
<path d="M586.6 40.2H601.8" stroke="#000" stroke-width="1.5"/>
<text x="603.3" y="44.7" font-size="12.2" fill="#111" textLength="55.3" lengthAdjust="spacingAndGlyphs">Repeat A</text>
<path d="M586.6 62.3H601.8" stroke="#a6a6a6" stroke-width="1.5"/>
<text x="603.3" y="66.8" font-size="12.2" fill="#a6a6a6" textLength="55.3" lengthAdjust="spacingAndGlyphs">Repeat B</text>
<path d="M586.6 84.8H601.8" stroke="#595959" stroke-width="1.5"/>
<text x="603.3" y="89.3" font-size="12.2" fill="#444" textLength="55.3" lengthAdjust="spacingAndGlyphs">Repeat C</text>
</g>
<text x="412.4" y="378.4" font-family="'Liberation Serif',serif" font-size="20.5" fill="#111" text-anchor="middle">(<tspan font-weight="bold">a</tspan>)</text>
<text x="213.2" y="613.5" font-family="'Liberation Serif',serif" font-size="20.5" fill="#111" text-anchor="middle">(<tspan font-weight="bold">b</tspan>)</text>
<text x="608.9" y="613.5" font-family="'Liberation Serif',serif" font-size="20.5" fill="#111" text-anchor="middle">(<tspan font-weight="bold">c</tspan>)</text>
<text x="412.3" y="848.0" font-family="'Liberation Serif',serif" font-size="20.5" fill="#111" text-anchor="middle">(<tspan font-weight="bold">d</tspan>)</text>
<path d="M128.6 412.4L129.1 409.5L129.8 412.4Z" fill="#2cc833"/>
<path d="M129.3 412.5L129.6 409.5L130.7 412.5Z" fill="#13c044"/>
<path d="M131.9 412.8L133.2 411.5L133.9 412.8Z" fill="#00d96b"/>
<path d="M132.6 412.8L133.2 411.5L134.0 412.8Z" fill="#14d93f"/>
<path d="M133.4 412.9L134.1 411.0L135.6 412.9Z" fill="#25d934"/>
<path d="M136.5 413.2L136.9 410.1L138.2 413.2Z" fill="#1dd637"/>
<path d="M136.4 413.2L138.0 411.7L138.9 413.2Z" fill="#36bd29"/>
<path d="M139.0 413.5L140.5 411.9L141.5 413.5Z" fill="#5bc516"/>
<path d="M139.2 413.5L140.8 412.3L141.7 413.5Z" fill="#0ec443"/>
<path d="M142.3 413.8L143.2 410.6L143.6 413.8Z" fill="#00c350"/>
<path d="M143.3 413.9L143.5 412.1L144.6 413.9Z" fill="#00cf60"/>
<path d="M145.6 414.1L145.7 412.2L146.8 414.1Z" fill="#00cf6e"/>
<path d="M145.6 414.1L146.4 410.9L147.1 414.1Z" fill="#00d876"/>
<path d="M147.8 414.4L148.2 412.1L149.2 414.4Z" fill="#5cc819"/>
<path d="M149.1 414.5L150.5 413.0L151.2 414.5Z" fill="#59d017"/>
<path d="M150.8 414.7L152.1 413.4L152.6 414.7Z" fill="#4ed51a"/>
<path d="M152.3 414.9L153.0 413.6L154.4 414.9Z" fill="#03cd47"/>
<path d="M154.0 415.0L154.6 412.6L155.3 415.0Z" fill="#00c666"/>
<path d="M154.9 415.1L156.3 413.5L157.1 415.1Z" fill="#22ca33"/>
<path d="M156.6 415.3L157.4 413.3L158.3 415.3Z" fill="#14cb44"/>
<path d="M157.9 415.4L158.3 414.2L159.2 415.4Z" fill="#35c72f"/>
<path d="M159.5 415.6L160.5 413.3L161.0 415.6Z" fill="#31cb2e"/>
<path d="M161.5 415.8L162.7 414.2L163.6 415.8Z" fill="#41cb24"/>
<path d="M162.1 415.8L162.8 414.5L163.4 415.8Z" fill="#00c669"/>
<path d="M164.0 416.1L164.6 414.2L165.7 416.1Z" fill="#00c25d"/>
<path d="M166.2 416.2L167.0 414.6L167.4 416.2Z" fill="#00bf64"/>
<path d="M166.7 416.3L167.3 414.9L168.6 416.3Z" fill="#00d657"/>
<path d="M168.7 416.5L169.2 415.3L170.3 416.5Z" fill="#00c976"/>
<path d="M170.7 416.7L171.1 414.1L172.0 416.7Z" fill="#00d36a"/>
<path d="M171.1 416.8L171.9 415.1L172.7 416.8Z" fill="#3cd026"/>
<path d="M172.6 417.0L173.7 414.2L175.0 417.0Z" fill="#4bd11c"/>
<path d="M174.3 417.1L175.7 414.4L176.4 417.1Z" fill="#2cda32"/>
<path d="M176.1 417.3L176.9 414.2L177.6 417.3Z" fill="#2ac52e"/>
<path d="M177.2 417.4L177.8 414.8L179.3 417.4Z" fill="#32d02e"/>
<path d="M177.8 417.5L179.2 416.2L180.5 417.5Z" fill="#10be49"/>
<path d="M181.2 417.8L182.2 415.4L182.5 417.8Z" fill="#2dcb32"/>
<path d="M182.2 417.9L183.0 416.3L183.4 417.9Z" fill="#3ac227"/>
<path d="M184.0 418.1L185.0 416.3L185.4 418.1Z" fill="#00c963"/>
<path d="M184.8 418.2L185.2 416.6L186.4 418.2Z" fill="#28cd36"/>
<path d="M186.6 418.4L187.1 415.5L188.2 418.4Z" fill="#09cd46"/>
<path d="M187.6 418.5L188.5 417.1L189.9 418.5Z" fill="#15c243"/>
<path d="M189.6 418.7L190.7 417.2L191.1 418.7Z" fill="#3bdb26"/>
<path d="M191.1 418.9L192.2 417.3L192.9 418.9Z" fill="#00c170"/>
<path d="M192.3 419.0L193.6 417.4L194.1 419.0Z" fill="#00da5f"/>
<path d="M193.2 419.0L194.3 417.2L194.6 419.0Z" fill="#29d92e"/>
<path d="M195.4 419.3L196.8 416.5L197.6 419.3Z" fill="#00c86d"/>
<path d="M197.3 419.5L198.5 417.5L198.6 419.5Z" fill="#00bb53"/>
<path d="M197.7 419.6L198.6 417.1L199.9 419.6Z" fill="#2bd834"/>
<path d="M199.9 419.8L200.9 418.1L201.9 419.8Z" fill="#29bc2e"/>
<path d="M201.2 419.9L202.0 418.0L203.3 419.9Z" fill="#4ed118"/>
<path d="M203.5 420.1L204.5 417.9L204.7 420.1Z" fill="#00c26f"/>
<path d="M204.1 420.2L205.4 418.4L206.2 420.2Z" fill="#00d350"/>
<path d="M205.2 420.3L206.9 419.1L207.9 420.3Z" fill="#00c976"/>
<path d="M206.6 420.4L207.6 418.3L208.4 420.4Z" fill="#3fd329"/>
<path d="M208.7 420.6L209.9 418.7L210.1 420.6Z" fill="#65db15"/>
<path d="M209.9 420.8L211.4 418.4L212.2 420.8Z" fill="#00d47e"/>
<path d="M211.4 420.9L212.7 419.0L213.3 420.9Z" fill="#55cd1a"/>
<path d="M213.0 421.1L213.9 419.2L215.5 421.1Z" fill="#00d77a"/>
<path d="M214.2 421.2L215.4 419.4L216.2 421.2Z" fill="#33de2c"/>
<path d="M216.5 421.5L217.2 419.7L218.2 421.5Z" fill="#00d471"/>
<path d="M217.6 421.6L218.5 420.0L220.0 421.6Z" fill="#4ddf1c"/>
<path d="M219.4 421.7L220.5 420.5L220.8 421.7Z" fill="#4bc51a"/>
<path d="M219.9 421.8L221.2 419.6L221.7 421.8Z" fill="#2edd31"/>
<path d="M221.0 422.0L221.9 419.8L223.5 422.0Z" fill="#41c728"/>
<path d="M222.5 422.1L223.9 420.1L225.1 422.1Z" fill="#2ccc32"/>
<path d="M225.4 422.4L226.0 419.9L226.7 422.4Z" fill="#30c12e"/>
<path d="M226.5 422.5L227.3 421.2L228.0 422.5Z" fill="#0dcd48"/>
<path d="M227.8 422.6L229.3 421.4L229.9 422.6Z" fill="#05cd4d"/>
<path d="M229.5 422.8L230.0 420.4L231.4 422.8Z" fill="#39d028"/>
<path d="M231.1 422.9L231.4 421.6L232.4 422.9Z" fill="#34d32f"/>
<path d="M231.9 423.1L233.1 420.9L233.7 423.1Z" fill="#00bd5b"/>
<path d="M234.3 423.3L234.6 422.0L235.5 423.3Z" fill="#25da36"/>
<path d="M235.4 423.4L236.1 421.4L236.6 423.4Z" fill="#1cbc40"/>
<path d="M237.6 423.6L238.0 422.4L239.0 423.6Z" fill="#00bd72"/>
<path d="M237.7 423.7L238.5 422.2L239.6 423.7Z" fill="#21c435"/>
<path d="M238.9 423.8L239.8 422.4L240.9 423.8Z" fill="#00d567"/>
<path d="M241.7 424.1L242.7 422.8L243.7 424.1Z" fill="#1ec437"/>
<path d="M243.5 424.2L243.8 422.7L244.8 424.2Z" fill="#39c426"/>
<path d="M243.9 424.3L245.1 423.1L246.6 424.3Z" fill="#00c555"/>
<path d="M245.6 424.5L246.5 422.6L248.2 424.5Z" fill="#37d728"/>
<path d="M247.2 424.6L248.4 421.3L249.3 424.6Z" fill="#0bc44a"/>
<path d="M248.3 424.7L249.3 423.4L250.1 424.7Z" fill="#16c23c"/>
<path d="M250.1 425.0L251.2 423.2L252.5 425.0Z" fill="#57c315"/>
<path d="M251.2 425.0L252.1 423.8L252.9 425.0Z" fill="#54dd16"/>
<path d="M252.2 425.2L253.1 424.0L254.1 425.2Z" fill="#5bda15"/>
<path d="M253.9 425.4L255.7 424.2L256.7 425.4Z" fill="#00d573"/>
<path d="M256.5 425.6L257.1 422.6L258.3 425.6Z" fill="#5fc216"/>
<path d="M256.9 425.7L257.8 424.4L259.2 425.7Z" fill="#4dcb1c"/>
<path d="M258.5 425.8L259.1 423.5L259.8 425.8Z" fill="#06c94f"/>
<path d="M260.6 426.0L261.1 423.7L262.2 426.0Z" fill="#09cf49"/>
<path d="M261.1 426.1L262.6 424.4L263.5 426.1Z" fill="#53d81a"/>
<path d="M262.4 426.2L263.4 424.9L264.9 426.2Z" fill="#00c26b"/>
<path d="M265.1 426.5L266.1 423.3L267.9 426.5Z" fill="#00c362"/>
<path d="M266.4 426.6L267.0 425.1L267.9 426.6Z" fill="#00d66e"/>
<path d="M267.9 426.8L268.7 425.3L270.1 426.8Z" fill="#00c870"/>
<path d="M269.4 427.0L270.8 424.1L271.7 427.0Z" fill="#00c55b"/>
<path d="M271.2 427.1L271.8 425.7L272.5 427.1Z" fill="#0fc945"/>
<path d="M272.4 427.2L273.2 425.8L274.4 427.2Z" fill="#1bbf40"/>
<path d="M273.3 427.3L274.0 425.6L274.8 427.3Z" fill="#00dc7c"/>
<path d="M274.7 427.5L275.0 426.2L276.2 427.5Z" fill="#00c464"/>
<path d="M128.2 414.2L128.9 409.1L130.0 413.2Z" fill="#b9a22e"/>
<path d="M73.0 531.0L74.7 532.2L77.3 531.0Z" fill="#00a79d"/>
<path d="M76.0 531.4L77.8 532.3L79.9 531.4Z" fill="#00bb61"/>
<path d="M79.5 532.0L82.2 533.1L84.0 532.0Z" fill="#00b88d"/>
<path d="M82.9 532.4L84.9 533.4L85.9 532.4Z" fill="#008681"/>
<path d="M84.7 532.7L86.0 533.5L87.9 532.7Z" fill="#00a862"/>
<path d="M85.7 532.8L86.7 533.7L88.7 532.8Z" fill="#00b7d4"/>
<path d="M91.0 533.5L91.7 535.2L93.5 533.5Z" fill="#008773"/>
<path d="M90.9 533.6L92.3 534.9L94.4 533.6Z" fill="#00b097"/>
<path d="M95.5 534.3L97.6 535.6L100.0 534.3Z" fill="#008c4e"/>
<path d="M98.0 534.6L99.5 536.0L100.9 534.6Z" fill="#00977e"/>
<path d="M101.2 535.1L103.1 536.9L104.2 535.1Z" fill="#008ab0"/>
<path d="M102.8 535.2L103.8 536.2L104.9 535.2Z" fill="#00c1a0"/>
<path d="M105.6 535.8L107.9 537.8L109.7 535.8Z" fill="#009170"/>
<path d="M109.7 536.3L111.0 537.5L112.9 536.3Z" fill="#00b88a"/>
<path d="M112.0 536.6L113.5 537.6L115.0 536.6Z" fill="#00ba67"/>
<path d="M111.8 536.7L114.1 538.0L116.4 536.7Z" fill="#009798"/>
<path d="M115.6 537.1L117.0 538.4L118.2 537.1Z" fill="#00b97c"/>
<path d="M117.7 537.6L120.1 539.0L122.0 537.6Z" fill="#009364"/>
<path d="M121.5 538.1L123.0 539.0L125.0 538.1Z" fill="#00864c"/>
<path d="M125.0 538.6L126.4 539.8L128.1 538.6Z" fill="#00c7a7"/>
<path d="M126.1 538.7L127.4 539.9L128.9 538.7Z" fill="#00c383"/>
<path d="M131.4 539.5L132.7 541.4L134.2 539.5Z" fill="#00ada0"/>
<path d="M134.1 539.9L135.4 541.7L136.7 539.9Z" fill="#009c9c"/>
<path d="M134.4 540.0L136.7 540.8L138.7 540.0Z" fill="#00a1b5"/>
<path d="M136.9 540.3L138.0 541.5L139.8 540.3Z" fill="#009491"/>
<path d="M141.4 541.0L143.0 542.3L144.6 541.0Z" fill="#00935e"/>
<path d="M143.0 541.3L144.9 542.3L147.6 541.3Z" fill="#009e9b"/>
<path d="M145.5 541.6L147.3 543.3L149.7 541.6Z" fill="#00b085"/>
<path d="M149.3 542.1L150.9 543.0L152.3 542.1Z" fill="#0086d0"/>
<path d="M151.7 542.6L154.4 543.6L156.1 542.6Z" fill="#00b9aa"/>
<path d="M154.4 542.9L156.7 544.6L158.4 542.9Z" fill="#00b4b4"/>
<path d="M156.2 543.1L157.2 544.7L158.9 543.1Z" fill="#00c2c2"/>
<path d="M158.1 543.4L160.0 545.3L161.2 543.4Z" fill="#00cc8a"/>
<path d="M161.2 543.9L163.3 545.2L165.5 543.9Z" fill="#009f9a"/>
<path d="M166.1 544.6L167.8 546.3L169.2 544.6Z" fill="#00a691"/>
<path d="M166.9 544.7L168.6 545.5L170.0 544.7Z" fill="#009c6c"/>
<path d="M169.4 545.0L170.9 547.0L172.2 545.0Z" fill="#008a8b"/>
<path d="M173.5 545.6L175.2 546.6L176.0 545.6Z" fill="#00d3b5"/>
<path d="M174.5 545.8L176.6 547.0L177.7 545.8Z" fill="#009dd2"/>
<path d="M178.4 546.5L180.2 547.6L182.3 546.5Z" fill="#00b57b"/>
<path d="M179.4 546.6L181.8 547.8L183.5 546.6Z" fill="#00b0c2"/>
<path d="M183.6 547.1L185.5 548.9L186.5 547.1Z" fill="#009091"/>
<path d="M185.1 547.4L186.2 548.4L188.1 547.4Z" fill="#009e70"/>
<path d="M190.3 548.1L191.7 549.3L192.7 548.1Z" fill="#00b7ae"/>
<path d="M191.5 548.3L192.9 549.5L194.1 548.3Z" fill="#00c35b"/>
<path d="M194.8 548.7L195.6 549.9L196.8 548.7Z" fill="#00aa73"/>
<path d="M197.8 549.2L199.4 550.3L200.3 549.2Z" fill="#009b8a"/>
<path d="M198.1 549.3L199.6 550.6L201.9 549.3Z" fill="#00ac6b"/>
<path d="M200.7 549.7L202.5 551.1L204.8 549.7Z" fill="#00b08e"/>
<path d="M203.8 550.2L205.6 551.1L207.6 550.2Z" fill="#00c74a"/>
<path d="M206.8 550.5L207.8 551.3L209.6 550.5Z" fill="#0098b6"/>
<path d="M211.8 551.2L213.5 552.6L214.3 551.2Z" fill="#00cf97"/>
<path d="M213.2 551.5L214.1 552.3L215.7 551.5Z" fill="#008ac0"/>
<path d="M216.3 552.0L218.4 552.9L220.6 552.0Z" fill="#00c16b"/>
<path d="M218.8 552.4L220.5 553.2L222.5 552.4Z" fill="#009273"/>
<path d="M222.5 552.8L224.1 553.8L225.3 552.8Z" fill="#00c758"/>
<path d="M222.3 552.9L224.1 554.3L226.7 552.9Z" fill="#00c185"/>
<path d="M227.3 553.6L229.6 555.3L231.3 553.6Z" fill="#00bfac"/>
<path d="M228.0 553.7L230.3 554.8L231.8 553.7Z" fill="#00ac84"/>
<path d="M232.6 554.3L233.4 555.8L234.9 554.3Z" fill="#00c983"/>
<path d="M234.5 554.6L235.6 556.2L237.2 554.6Z" fill="#00bb66"/>
<path d="M235.7 554.9L237.9 555.7L240.0 554.9Z" fill="#009c7d"/>
<path d="M241.5 555.6L242.6 557.0L244.1 555.6Z" fill="#00a998"/>
<path d="M243.6 556.0L245.2 557.7L246.8 556.0Z" fill="#00a599"/>
<path d="M245.4 556.2L246.3 557.0L247.9 556.2Z" fill="#00be76"/>
<path d="M247.9 556.5L249.2 557.6L250.1 556.5Z" fill="#00ae95"/>
<path d="M249.0 556.9L250.9 558.5L253.6 556.9Z" fill="#00935e"/>
<path d="M252.3 557.3L254.9 558.6L256.7 557.3Z" fill="#00917c"/>
<path d="M256.1 557.8L258.0 559.3L259.0 557.8Z" fill="#009660"/>
<path d="M260.5 558.4L262.3 559.2L263.0 558.4Z" fill="#00ab9c"/>
<g font-family="'Liberation Sans',sans-serif" font-size="7.50" fill="#333" text-anchor="middle">
<text transform="translate(124.6 400.1) rotate(-61) skewX(-8)" y="2.7">0</text>
<text transform="translate(118.7 411.9) rotate(-61) skewX(-8)" y="2.7">0.2</text>
<text transform="translate(112.3 424.4) rotate(-61) skewX(-8)" y="2.7">0.4</text>
<text transform="translate(105.7 437.7) rotate(-61) skewX(-8)" y="2.7">0.6</text>
<text transform="translate(98.6 451.8) rotate(-61) skewX(-8)" y="2.7">0.8</text>
<text transform="translate(91.0 466.8) rotate(-61) skewX(-8)" y="2.7">1</text>
<text transform="translate(82.9 482.8) rotate(-61) skewX(-8)" y="2.7">1.2</text>
<text transform="translate(74.3 500.0) rotate(-61) skewX(-8)" y="2.7">1.4</text>
<text transform="translate(84.3 449.2) rotate(-63) skewX(-8)" y="2.2">mm</text>
<text transform="translate(73.5 543.1) rotate(8.5) skewX(-14)" y="2.7">0</text>
<text transform="translate(98.6 546.8) rotate(8.5) skewX(-14)" y="2.7">0.2</text>
<text transform="translate(124.2 550.6) rotate(8.5) skewX(-14)" y="2.7">0.4</text>
<text transform="translate(150.3 554.5) rotate(8.5) skewX(-14)" y="2.7">0.6</text>
<text transform="translate(177.0 558.5) rotate(8.5) skewX(-14)" y="2.7">0.8</text>
<text transform="translate(204.2 562.6) rotate(8.5) skewX(-14)" y="2.7">1</text>
<text transform="translate(231.9 566.7) rotate(8.5) skewX(-14)" y="2.7">1.2</text>
<text transform="translate(260.2 570.9) rotate(8.5) skewX(-14)" y="2.7">1.4</text>
<text transform="translate(159.6 573.7) rotate(8.5) skewX(-14)" y="2.2">mm</text>
<text x="58.8" y="524.6">10</text>
<text x="64.0" y="546.9">0</text>
<text transform="translate(24.2 546.8) rotate(80)" y="2.2">µm</text>
</g>
<path d="M129.5 403.0L72.0 521.5L74.4 535.5L261.1 563.3" fill="none" stroke="#3a3a3a" stroke-width="0.9" stroke-linejoin="round"/>
<path d="M129.5 403.0L126.7 402.7M126.6 408.9L125.3 408.8M123.7 415.0L120.9 414.7M120.7 421.2L119.3 421.1M117.6 427.6L114.8 427.3M114.3 434.2L113.0 434.1M111.0 441.1L108.3 440.8M107.6 448.1L106.2 447.9M104.1 455.3L101.3 455.1M100.5 462.8L99.1 462.7M96.7 470.5L94.0 470.3M92.9 478.5L91.5 478.4M88.8 486.8L86.1 486.5M84.7 495.3L83.3 495.2M80.4 504.1L77.7 503.9M76.0 513.3L74.6 513.1M74.4 535.5L74.0 538.5M86.9 537.4L86.7 538.9M99.5 539.2L99.1 542.2M112.2 541.1L112.0 542.7M125.1 543.0L124.7 546.0M138.1 545.0L137.9 546.6M151.2 546.9L150.9 549.9M164.5 548.9L164.3 550.5M177.9 550.9L177.5 553.9M191.4 552.9L191.2 554.5M205.1 555.0L204.7 557.9M218.9 557.0L218.7 558.6M232.8 559.1L232.5 562.1M246.9 561.2L246.7 562.8M261.1 563.3L260.7 566.3M72.0 521.5L68.1 522.8M74.4 535.5L70.9 536.7" fill="none" stroke="#3a3a3a" stroke-width="0.8"/>
<rect x="377.9" y="400.5" width="8.9" height="179.8" fill="url(#cbg)"/>
<path d="M377.9 580.3V400.5H386.8V580.3" fill="none" stroke="#555" stroke-width="1"/>
<g font-family="'Liberation Sans',sans-serif" font-size="8.6" fill="#383838">
<text x="392.8" y="583.4">0</text>
<text x="392.8" y="565.4">1</text>
<text x="392.8" y="547.4">2</text>
<text x="392.8" y="529.5">3</text>
<text x="392.8" y="511.5">4</text>
<text x="392.8" y="493.5">5</text>
<text x="392.8" y="475.5">6</text>
<text x="392.8" y="457.5">7</text>
<text x="392.8" y="439.6">8</text>
<text x="392.8" y="421.6">9</text>
<text x="392.8" y="396.9">µm</text>
</g>
<path d="M386.8 580.3H391.0M386.8 562.3H391.0M386.8 544.3H391.0M386.8 526.4H391.0M386.8 508.4H391.0M386.8 490.4H391.0M386.8 472.4H391.0M386.8 454.4H391.0M386.8 436.5H391.0M386.8 418.5H391.0M386.8 400.5H391.0" fill="none" stroke="#555" stroke-width="1"/>
<path d="M523.1 411.6L524.2 409.3L524.7 411.6Z" fill="#82971e"/>
<path d="M524.4 411.8L525.3 408.0L527.1 411.8Z" fill="#a49a1e"/>
<path d="M526.3 412.0L527.2 410.4L528.1 412.0Z" fill="#7fa81e"/>
<path d="M526.8 412.1L528.5 409.4L529.4 412.1Z" fill="#9f9d1e"/>
<path d="M528.2 412.2L529.6 408.7L531.0 412.2Z" fill="#909b1e"/>
<path d="M529.6 412.3L530.7 410.4L531.1 412.3Z" fill="#a1b51e"/>
<path d="M531.3 412.5L531.8 410.3L533.0 412.5Z" fill="#768c1e"/>
<path d="M531.9 412.6L533.4 410.3L534.2 412.6Z" fill="#7e901e"/>
<path d="M533.3 412.7L534.7 410.2L535.1 412.7Z" fill="#9db31e"/>
<path d="M533.9 412.8L535.5 407.9L536.4 412.8Z" fill="#9b591e"/>
<path d="M536.3 413.0L536.7 410.6L537.5 413.0Z" fill="#83941e"/>
<path d="M537.2 413.2L538.4 411.1L539.7 413.2Z" fill="#76901e"/>
<path d="M537.7 413.2L539.1 411.5L540.0 413.2Z" fill="#77931e"/>
<path d="M539.9 413.4L540.9 411.8L541.2 413.4Z" fill="#90b11e"/>
<path d="M540.7 413.5L541.4 411.9L543.0 413.5Z" fill="#7faa1e"/>
<path d="M542.8 413.7L543.8 411.2L544.3 413.7Z" fill="#7b961e"/>
<path d="M542.7 413.8L543.6 412.1L545.1 413.8Z" fill="#6c911e"/>
<path d="M544.3 413.9L544.9 412.0L545.7 413.9Z" fill="#6b8f1e"/>
<path d="M546.2 414.1L547.0 409.7L548.2 414.1Z" fill="#b7b61e"/>
<path d="M547.0 414.2L547.5 411.3L548.9 414.2Z" fill="#9db21e"/>
<path d="M548.1 414.3L549.2 410.8L549.8 414.3Z" fill="#7e901e"/>
<path d="M549.1 414.4L550.1 412.3L551.7 414.4Z" fill="#80941e"/>
<path d="M551.1 414.6L552.2 412.4L553.2 414.6Z" fill="#98b31e"/>
<path d="M552.1 414.7L553.1 412.5L554.4 414.7Z" fill="#72901e"/>
<path d="M553.1 414.8L553.9 409.6L554.6 414.8Z" fill="#b6791e"/>
<path d="M554.6 415.0L556.2 411.4L557.0 415.0Z" fill="#8e9a1e"/>
<path d="M555.3 415.1L556.9 411.1L557.5 415.1Z" fill="#a7771e"/>
<path d="M556.9 415.3L558.5 411.7L559.6 415.3Z" fill="#a3941e"/>
<path d="M558.1 415.4L559.3 412.5L560.5 415.4Z" fill="#abb41e"/>
<path d="M559.5 415.5L560.4 413.1L562.0 415.5Z" fill="#90b21e"/>
<path d="M560.2 415.6L561.0 413.7L562.7 415.6Z" fill="#849d1e"/>
<path d="M561.4 415.7L562.5 411.1L564.0 415.7Z" fill="#bba81e"/>
<path d="M563.9 415.9L564.7 414.3L565.2 415.9Z" fill="#79981e"/>
<path d="M563.9 416.0L565.3 414.2L566.6 416.0Z" fill="#70961e"/>
<path d="M565.8 416.1L566.5 414.1L567.4 416.1Z" fill="#89ad1e"/>
<path d="M566.1 416.2L567.8 411.5L568.6 416.2Z" fill="#a8621e"/>
<path d="M567.5 416.4L569.0 411.5L570.2 416.4Z" fill="#a6761e"/>
<path d="M569.0 416.5L570.8 414.7L571.8 416.5Z" fill="#97b31e"/>
<path d="M570.2 416.6L570.8 415.0L571.8 416.6Z" fill="#92b31e"/>
<path d="M571.6 416.8L572.6 415.2L573.4 416.8Z" fill="#7ba41e"/>
<path d="M573.6 417.0L574.4 415.3L575.2 417.0Z" fill="#7ea51e"/>
<path d="M574.5 417.1L575.6 415.5L576.0 417.1Z" fill="#84a71e"/>
<path d="M575.2 417.1L575.6 414.4L576.7 417.1Z" fill="#acb31e"/>
<path d="M575.8 417.2L576.9 415.2L578.4 417.2Z" fill="#6c8e1e"/>
<path d="M578.1 417.4L579.2 412.8L579.3 417.4Z" fill="#9c5b1e"/>
<path d="M579.6 417.6L580.1 415.9L581.0 417.6Z" fill="#7f961e"/>
<path d="M580.3 417.7L582.1 415.8L583.0 417.7Z" fill="#6e8e1e"/>
<path d="M581.6 417.8L582.1 413.8L583.3 417.8Z" fill="#a5821e"/>
<path d="M582.4 418.0L584.0 415.0L585.1 418.0Z" fill="#b8b01e"/>
<path d="M584.3 418.1L585.3 415.2L586.5 418.1Z" fill="#a3a41e"/>
<path d="M585.5 418.2L586.0 416.1L587.3 418.2Z" fill="#7e961e"/>
<path d="M586.9 418.4L587.7 416.7L588.5 418.4Z" fill="#7ea21e"/>
<path d="M587.1 418.4L588.1 415.1L589.5 418.4Z" fill="#879d1e"/>
<path d="M589.0 418.6L589.9 416.0L591.3 418.6Z" fill="#87971e"/>
<path d="M589.6 418.7L591.2 414.4L591.8 418.7Z" fill="#a99d1e"/>
<path d="M591.9 418.9L592.7 417.2L593.3 418.9Z" fill="#89ad1e"/>
<path d="M592.7 419.0L593.6 417.4L594.9 419.0Z" fill="#6d8f1e"/>
<path d="M594.0 419.1L594.9 417.5L595.5 419.1Z" fill="#7e9f1e"/>
<path d="M595.2 419.3L595.8 413.8L597.0 419.3Z" fill="#9a931e"/>
<path d="M596.6 419.4L597.8 417.8L599.3 419.4Z" fill="#8daa1e"/>
<path d="M598.3 419.6L598.8 415.5L600.1 419.6Z" fill="#a6931e"/>
<path d="M599.7 419.7L600.5 418.1L601.0 419.7Z" fill="#88a81e"/>
<path d="M599.2 419.7L600.3 417.5L601.9 419.7Z" fill="#78931e"/>
<path d="M602.0 420.0L602.7 418.2L603.6 420.0Z" fill="#82a11e"/>
<path d="M602.4 420.0L603.1 417.4L603.7 420.0Z" fill="#aaac1e"/>
<path d="M603.7 420.2L604.7 417.6L606.4 420.2Z" fill="#9eae1e"/>
<path d="M604.7 420.3L606.4 417.5L607.2 420.3Z" fill="#8da71e"/>
<path d="M606.0 420.4L607.0 418.0L608.1 420.4Z" fill="#949d1e"/>
<path d="M608.2 420.6L608.4 416.5L609.6 420.6Z" fill="#aa961e"/>
<path d="M608.5 420.7L609.4 418.2L610.6 420.7Z" fill="#89a61e"/>
<path d="M610.2 420.9L611.0 416.1L612.5 420.9Z" fill="#a1a01e"/>
<path d="M611.2 421.0L612.8 419.0L613.7 421.0Z" fill="#72911e"/>
<path d="M613.2 421.1L613.7 415.9L614.6 421.1Z" fill="#a4831e"/>
<path d="M614.3 421.3L615.2 419.2L615.9 421.3Z" fill="#8da81e"/>
<path d="M614.3 421.3L616.0 419.2L617.0 421.3Z" fill="#889a1e"/>
<path d="M615.3 421.4L616.4 418.0L617.9 421.4Z" fill="#b2951e"/>
<path d="M617.8 421.7L619.2 418.4L620.1 421.7Z" fill="#adb01e"/>
<path d="M619.3 421.8L619.7 419.3L621.0 421.8Z" fill="#84981e"/>
<path d="M619.5 421.8L620.2 419.5L621.4 421.8Z" fill="#8b991e"/>
<path d="M621.3 422.0L622.9 420.4L623.7 422.0Z" fill="#799f1e"/>
<path d="M621.8 422.1L622.8 420.4L624.3 422.1Z" fill="#77961e"/>
<path d="M623.3 422.3L624.7 420.7L626.0 422.3Z" fill="#78941e"/>
<path d="M625.0 422.4L626.4 418.6L627.4 422.4Z" fill="#b7a01e"/>
<path d="M626.6 422.5L626.9 419.7L627.9 422.5Z" fill="#99a11e"/>
<path d="M627.5 422.7L628.2 421.1L629.3 422.7Z" fill="#85a01e"/>
<path d="M629.0 422.8L629.7 419.0L630.7 422.8Z" fill="#a4b31e"/>
<path d="M630.1 423.0L631.5 418.7L632.5 423.0Z" fill="#a3681e"/>
<path d="M630.7 423.0L631.2 420.2L632.4 423.0Z" fill="#a0a21e"/>
<path d="M632.1 423.1L632.7 420.7L634.0 423.1Z" fill="#88981e"/>
<path d="M634.3 423.4L635.3 421.7L635.9 423.4Z" fill="#89a61e"/>
<path d="M635.4 423.5L636.6 419.5L637.1 423.5Z" fill="#b9931e"/>
<path d="M636.4 423.6L637.6 422.0L637.7 423.6Z" fill="#87a71e"/>
<path d="M637.2 423.7L638.1 421.4L638.8 423.7Z" fill="#8c9e1e"/>
<path d="M638.0 423.8L639.4 418.8L640.6 423.8Z" fill="#ad5e1e"/>
<path d="M639.7 423.9L640.7 419.3L641.3 423.9Z" fill="#aa751e"/>
<path d="M641.1 424.1L642.1 419.9L642.3 424.1Z" fill="#afa61e"/>
<path d="M642.2 424.2L643.3 422.3L644.5 424.2Z" fill="#8dac1e"/>
<path d="M643.3 424.3L643.8 421.2L645.1 424.3Z" fill="#989c1e"/>
<path d="M644.6 424.4L645.5 419.9L646.2 424.4Z" fill="#9f9f1e"/>
<path d="M645.9 424.6L646.6 422.5L647.4 424.6Z" fill="#7c9e1e"/>
<path d="M647.5 424.8L648.8 422.7L649.7 424.8Z" fill="#82911e"/>
<path d="M648.6 424.9L649.6 423.2L649.9 424.9Z" fill="#7b9a1e"/>
<path d="M649.9 425.1L651.2 422.2L652.5 425.1Z" fill="#91a91e"/>
<path d="M650.5 425.1L651.7 420.1L652.6 425.1Z" fill="#92701e"/>
<path d="M652.2 425.3L653.4 423.6L654.7 425.3Z" fill="#87a51e"/>
<path d="M653.7 425.4L654.0 423.0L655.2 425.4Z" fill="#a7b01e"/>
<path d="M654.4 425.5L654.8 420.7L655.9 425.5Z" fill="#9b601e"/>
<path d="M656.1 425.6L657.2 423.8L657.5 425.6Z" fill="#749b1e"/>
<path d="M656.9 425.8L657.9 423.5L659.2 425.8Z" fill="#9aae1e"/>
<path d="M658.5 425.9L659.2 423.2L660.0 425.9Z" fill="#a4b11e"/>
<path d="M660.2 426.1L661.0 424.3L661.5 426.1Z" fill="#88a61e"/>
<path d="M661.0 426.2L662.1 423.8L662.7 426.2Z" fill="#788c1e"/>
<path d="M661.5 426.3L662.4 423.1L663.5 426.3Z" fill="#b0af1e"/>
<path d="M662.8 426.4L663.3 422.5L664.6 426.4Z" fill="#98a31e"/>
<path d="M663.6 426.5L664.9 423.0L666.3 426.5Z" fill="#a8a31e"/>
<path d="M665.9 426.7L667.0 421.6L668.5 426.7Z" fill="#97731e"/>
<path d="M666.4 426.8L667.0 424.3L668.5 426.8Z" fill="#7c8d1e"/>
<path d="M667.7 426.9L668.5 425.1L669.7 426.9Z" fill="#90a71e"/>
<path d="M669.4 427.0L670.3 422.3L670.6 427.0Z" fill="#a4941e"/>
<path d="M671.3 427.2L672.3 425.3L672.6 427.2Z" fill="#718d1e"/>
<path d="M468.8 531.4L470.4 532.7L471.2 531.4Z" fill="#69bc0a"/>
<path d="M470.0 531.6L471.0 534.4L472.8 531.6Z" fill="#009b50"/>
<path d="M472.7 532.1L474.9 533.5L477.2 532.1Z" fill="#3ac91c"/>
<path d="M474.9 532.3L476.1 533.8L477.8 532.3Z" fill="#00be4c"/>
<path d="M477.7 532.7L478.7 534.3L480.5 532.7Z" fill="#33b612"/>
<path d="M481.5 533.4L484.1 536.1L486.3 533.4Z" fill="#54c80a"/>
<path d="M482.7 533.6L485.2 537.8L487.2 533.6Z" fill="#4f8c12"/>
<path d="M485.2 533.9L487.7 535.3L489.8 533.9Z" fill="#009d35"/>
<path d="M487.9 534.3L489.6 536.7L491.6 534.3Z" fill="#5ebb07"/>
<path d="M492.5 535.0L494.9 536.4L496.5 535.0Z" fill="#529c14"/>
<path d="M493.5 535.1L495.8 536.4L497.2 535.1Z" fill="#00943e"/>
<path d="M497.0 535.6L499.5 537.0L501.0 535.6Z" fill="#08af3b"/>
<path d="M499.8 536.0L501.8 537.9L503.7 536.0Z" fill="#00a548"/>
<path d="M501.2 536.3L503.4 537.6L505.4 536.3Z" fill="#328c17"/>
<path d="M504.7 536.8L507.1 539.4L508.6 536.8Z" fill="#66b509"/>
<path d="M507.0 537.1L509.4 540.3L511.3 537.1Z" fill="#008c3d"/>
<path d="M510.9 537.6L512.6 540.1L514.3 537.6Z" fill="#339f17"/>
<path d="M514.2 538.2L516.4 540.3L518.4 538.2Z" fill="#0c9a2e"/>
<path d="M516.6 538.4L517.7 541.4L518.7 538.4Z" fill="#1cc62b"/>
<path d="M519.2 538.8L520.5 542.9L522.0 538.8Z" fill="#508e0c"/>
<path d="M521.2 539.2L522.9 543.9L525.3 539.2Z" fill="#0c942c"/>
<path d="M524.8 539.7L527.2 544.0L529.2 539.7Z" fill="#55a70e"/>
<path d="M525.9 539.9L528.3 542.7L530.0 539.9Z" fill="#429114"/>
<path d="M528.3 540.2L530.1 543.1L531.7 540.2Z" fill="#308724"/>
<path d="M531.5 540.7L533.8 543.4L535.2 540.7Z" fill="#008b52"/>
<path d="M534.6 541.2L537.0 545.6L538.8 541.2Z" fill="#3f8f10"/>
<path d="M538.8 541.6L540.3 543.8L541.2 541.6Z" fill="#0dbe42"/>
<path d="M539.1 541.8L540.4 543.3L542.6 541.8Z" fill="#1a9f33"/>
<path d="M541.7 542.2L544.2 544.7L545.8 542.2Z" fill="#12b333"/>
<path d="M547.6 542.9L549.2 547.7L550.1 542.9Z" fill="#589209"/>
<path d="M548.9 543.2L550.9 546.4L552.7 543.2Z" fill="#41b319"/>
<path d="M550.8 543.5L552.8 544.9L555.2 543.5Z" fill="#2bab1b"/>
<path d="M554.3 543.9L555.6 545.9L556.7 543.9Z" fill="#09a735"/>
<path d="M556.1 544.2L557.3 546.0L558.9 544.2Z" fill="#55bd08"/>
<path d="M560.2 544.9L562.6 547.7L564.2 544.9Z" fill="#2ca21b"/>
<path d="M561.8 545.0L562.9 547.0L564.0 545.0Z" fill="#308917"/>
<path d="M565.9 545.7L567.6 547.4L569.6 545.7Z" fill="#53c60a"/>
<path d="M567.2 545.9L569.4 547.6L571.6 545.9Z" fill="#20a72d"/>
<path d="M571.8 546.5L572.9 547.8L574.1 546.5Z" fill="#1dbf27"/>
<path d="M573.1 546.7L574.6 548.3L576.0 546.7Z" fill="#00934c"/>
<path d="M574.5 547.0L576.9 550.6L579.0 547.0Z" fill="#50b80c"/>
<path d="M580.1 547.7L581.5 549.7L582.5 547.7Z" fill="#00a146"/>
<path d="M579.1 547.7L581.7 552.1L583.8 547.7Z" fill="#019040"/>
<path d="M582.4 548.1L584.9 551.2L586.4 548.1Z" fill="#219521"/>
<path d="M587.2 548.7L588.3 552.0L589.3 548.7Z" fill="#2bb521"/>
<path d="M589.2 549.1L591.3 551.0L593.1 549.1Z" fill="#0ea52e"/>
<path d="M591.0 549.4L593.6 551.5L595.6 549.4Z" fill="#57c310"/>
<path d="M594.7 549.9L596.2 552.3L598.1 549.9Z" fill="#248f1b"/>
<path d="M596.9 550.2L598.8 554.8L599.6 550.2Z" fill="#00c443"/>
<path d="M599.5 550.7L602.1 554.3L603.7 550.7Z" fill="#009f4e"/>
<path d="M601.5 550.9L603.4 552.5L605.5 550.9Z" fill="#3ec712"/>
<path d="M605.4 551.4L606.2 553.4L607.7 551.4Z" fill="#3abe21"/>
<path d="M608.4 552.0L610.7 555.3L612.7 552.0Z" fill="#24af20"/>
<path d="M610.0 552.1L611.2 553.8L613.0 552.1Z" fill="#17b332"/>
<path d="M614.6 552.8L616.7 555.8L618.1 552.8Z" fill="#51c416"/>
<path d="M616.3 553.0L618.1 555.4L618.9 553.0Z" fill="#489a13"/>
<path d="M617.7 553.3L619.4 557.4L620.9 553.3Z" fill="#0cb332"/>
<path d="M621.9 554.0L624.5 558.8L626.4 554.0Z" fill="#2e851e"/>
<path d="M624.5 554.3L626.6 558.2L627.9 554.3Z" fill="#00b25b"/>
<path d="M626.3 554.6L628.3 557.3L630.2 554.6Z" fill="#50930f"/>
<path d="M631.6 555.2L632.8 557.4L634.0 555.2Z" fill="#12942d"/>
<path d="M632.6 555.4L634.3 558.8L635.3 555.4Z" fill="#51ac0e"/>
<path d="M633.9 555.7L636.3 560.5L638.4 555.7Z" fill="#47b513"/>
<path d="M637.9 556.3L639.4 559.9L641.7 556.3Z" fill="#2aa421"/>
<path d="M639.6 556.4L641.4 560.4L642.4 556.4Z" fill="#18b93a"/>
<path d="M642.1 556.8L643.6 561.4L645.4 556.8Z" fill="#129d31"/>
<path d="M646.2 557.5L647.7 558.9L650.1 557.5Z" fill="#6db408"/>
<path d="M648.8 557.8L650.7 561.5L652.0 557.8Z" fill="#2aa827"/>
<path d="M652.7 558.3L654.1 560.5L655.2 558.3Z" fill="#50b10a"/>
<path d="M652.8 558.4L655.0 559.9L656.4 558.4Z" fill="#1cb12f"/>
<g font-family="'Liberation Sans',sans-serif" font-size="7.58" fill="#333" text-anchor="middle">
<text transform="translate(518.2 401.4) rotate(-61) skewX(-8)" y="2.7">0</text>
<text transform="translate(512.2 413.4) rotate(-61) skewX(-8)" y="2.7">0.2</text>
<text transform="translate(505.8 426.0) rotate(-61) skewX(-8)" y="2.7">0.4</text>
<text transform="translate(499.1 439.4) rotate(-61) skewX(-8)" y="2.7">0.6</text>
<text transform="translate(491.9 453.7) rotate(-61) skewX(-8)" y="2.7">0.8</text>
<text transform="translate(484.3 468.8) rotate(-61) skewX(-8)" y="2.7">1</text>
<text transform="translate(476.1 485.0) rotate(-61) skewX(-8)" y="2.7">1.2</text>
<text transform="translate(467.4 502.3) rotate(-61) skewX(-8)" y="2.7">1.4</text>
<text transform="translate(477.5 451.0) rotate(-63) skewX(-8)" y="2.3">mm</text>
<text transform="translate(466.6 545.9) rotate(8.5) skewX(-14)" y="2.7">0</text>
<text transform="translate(491.9 549.6) rotate(8.5) skewX(-14)" y="2.7">0.2</text>
<text transform="translate(517.8 553.5) rotate(8.5) skewX(-14)" y="2.7">0.4</text>
<text transform="translate(544.2 557.4) rotate(8.5) skewX(-14)" y="2.7">0.6</text>
<text transform="translate(571.1 561.4) rotate(8.5) skewX(-14)" y="2.7">0.8</text>
<text transform="translate(598.6 565.5) rotate(8.5) skewX(-14)" y="2.7">1</text>
<text transform="translate(626.6 569.7) rotate(8.5) skewX(-14)" y="2.7">1.2</text>
<text transform="translate(655.2 574.0) rotate(8.5) skewX(-14)" y="2.7">1.4</text>
<text transform="translate(553.6 576.8) rotate(8.5) skewX(-14)" y="2.3">mm</text>
<text x="451.7" y="527.2">10</text>
<text x="457.0" y="549.7">0</text>
<text transform="translate(416.8 549.6) rotate(80)" y="2.3">µm</text>
</g>
<path d="M523.2 404.4L465.1 524.1L467.5 538.2L656.1 566.3" fill="none" stroke="#3a3a3a" stroke-width="0.9" stroke-linejoin="round"/>
<path d="M523.2 404.4L520.4 404.1M520.3 410.3L518.9 410.2M517.3 416.5L514.5 416.2M514.2 422.8L512.8 422.6M511.1 429.2L508.3 429.0M507.8 435.9L506.4 435.8M504.5 442.8L501.7 442.5M501.1 449.9L499.7 449.8M497.5 457.2L494.7 457.0M493.8 464.8L492.4 464.7M490.0 472.6L487.2 472.3M486.1 480.7L484.7 480.5M482.1 489.0L479.3 488.7M477.9 497.6L476.5 497.5M473.6 506.5L470.8 506.2M469.1 515.8L467.7 515.6M467.5 538.2L467.1 541.2M480.1 540.1L479.9 541.7M492.8 542.0L492.5 545.0M505.7 543.9L505.5 545.5M518.7 545.8L518.3 548.8M531.8 547.8L531.6 549.4M545.1 549.8L544.7 552.8M558.5 551.7L558.3 553.3M572.0 553.8L571.7 556.8M585.7 555.8L585.5 557.4M599.5 557.9L599.1 560.9M613.4 559.9L613.2 561.5M627.5 562.0L627.1 565.0M641.7 564.1L641.5 565.7M656.1 566.3L655.7 569.3M465.1 524.1L461.1 525.4M467.5 538.2L464.0 539.4" fill="none" stroke="#3a3a3a" stroke-width="0.8"/>
<rect x="774.4" y="402.0" width="9.1" height="182.0" fill="url(#cbg)"/>
<path d="M774.4 584.0V402.0H783.5V584.0" fill="none" stroke="#555" stroke-width="1"/>
<g font-family="'Liberation Sans',sans-serif" font-size="8.6" fill="#383838">
<text x="789.5" y="587.1">0</text>
<text x="789.5" y="568.9">1</text>
<text x="789.5" y="550.7">2</text>
<text x="789.5" y="532.5">3</text>
<text x="789.5" y="514.3">4</text>
<text x="789.5" y="496.1">5</text>
<text x="789.5" y="477.9">6</text>
<text x="789.5" y="459.7">7</text>
<text x="789.5" y="441.5">8</text>
<text x="789.5" y="423.3">9</text>
<text x="789.5" y="398.4">µm</text>
</g>
<path d="M783.5 584.0H787.7M783.5 565.8H787.7M783.5 547.6H787.7M783.5 529.4H787.7M783.5 511.2H787.7M783.5 493.0H787.7M783.5 474.8H787.7M783.5 456.6H787.7M783.5 438.4H787.7M783.5 420.2H787.7M783.5 402.0H787.7" fill="none" stroke="#555" stroke-width="1"/>
<path d="M327.8 644.2L329.3 642.1L330.3 644.2Z" fill="#9d811e"/>
<path d="M328.8 644.2L329.8 642.5L330.5 644.2Z" fill="#958e1e"/>
<path d="M329.9 644.4L331.3 642.7L331.8 644.4Z" fill="#a2a21e"/>
<path d="M331.5 644.6L333.2 642.8L334.2 644.6Z" fill="#bab01e"/>
<path d="M332.2 644.7L333.2 642.8L334.9 644.7Z" fill="#ab951e"/>
<path d="M333.9 644.8L335.4 640.7L336.5 644.8Z" fill="#bb401e"/>
<path d="M334.9 644.9L336.2 642.1L336.9 644.9Z" fill="#ab791e"/>
<path d="M335.9 645.1L337.5 641.9L338.7 645.1Z" fill="#b9741e"/>
<path d="M337.2 645.1L337.7 642.8L338.9 645.1Z" fill="#948b1e"/>
<path d="M338.5 645.3L339.3 641.0L341.0 645.3Z" fill="#a9371e"/>
<path d="M339.3 645.4L340.6 643.8L341.9 645.4Z" fill="#aaad1e"/>
<path d="M341.2 645.6L342.2 640.8L343.5 645.6Z" fill="#ab771e"/>
<path d="M343.3 645.8L343.7 643.9L344.9 645.8Z" fill="#a18e1e"/>
<path d="M344.1 645.9L344.9 640.6L346.1 645.9Z" fill="#b6681e"/>
<path d="M344.4 645.9L345.5 644.3L347.0 645.9Z" fill="#8e931e"/>
<path d="M346.7 646.1L347.8 640.2L348.2 646.1Z" fill="#9b3d3f"/>
<path d="M347.2 646.2L348.0 642.6L349.7 646.2Z" fill="#a4671e"/>
<path d="M348.1 646.3L349.5 642.6L350.5 646.3Z" fill="#91571e"/>
<path d="M350.2 646.5L351.2 641.7L352.6 646.5Z" fill="#9e3b1e"/>
<path d="M350.9 646.6L351.6 643.2L352.7 646.6Z" fill="#99571e"/>
<path d="M351.7 646.7L352.5 644.8L354.1 646.7Z" fill="#b8a31e"/>
<path d="M354.0 646.9L354.7 643.9L355.8 646.9Z" fill="#ae691e"/>
<path d="M355.3 647.1L355.9 644.6L357.3 647.1Z" fill="#a48e1e"/>
<path d="M356.6 647.2L357.1 645.2L358.5 647.2Z" fill="#a7a71e"/>
<path d="M356.5 647.2L357.4 645.4L359.1 647.2Z" fill="#afa51e"/>
<path d="M358.4 647.4L359.5 643.4L360.8 647.4Z" fill="#92591e"/>
<path d="M360.3 647.6L361.5 642.5L362.5 647.6Z" fill="#aa541e"/>
<path d="M361.0 647.7L362.3 642.9L363.1 647.7Z" fill="#b0771e"/>
<path d="M361.5 647.8L362.8 644.9L364.3 647.8Z" fill="#ad821e"/>
<path d="M363.7 647.9L364.5 642.1L365.3 647.9Z" fill="#932f1e"/>
<path d="M364.7 648.1L365.9 644.4L367.4 648.1Z" fill="#98721e"/>
<path d="M366.1 648.2L366.8 642.9L367.7 648.2Z" fill="#bc4b1e"/>
<path d="M367.4 648.3L367.8 646.0L369.1 648.3Z" fill="#b5a51e"/>
<path d="M367.9 648.4L369.0 643.9L370.2 648.4Z" fill="#a45a1e"/>
<path d="M369.6 648.6L370.6 646.1L371.4 648.6Z" fill="#9e851e"/>
<path d="M370.9 648.7L371.1 642.8L372.1 648.7Z" fill="#a0321e"/>
<path d="M373.1 648.9L373.9 646.4L374.6 648.9Z" fill="#97891e"/>
<path d="M374.4 649.1L375.4 643.4L375.9 649.1Z" fill="#a84547"/>
<path d="M374.7 649.1L374.9 647.5L376.1 649.1Z" fill="#918b1e"/>
<path d="M376.2 649.2L377.2 647.6L377.7 649.2Z" fill="#978f1e"/>
<path d="M377.7 649.4L378.7 646.9L379.6 649.4Z" fill="#9d921e"/>
<path d="M378.7 649.5L379.5 646.7L380.5 649.5Z" fill="#a36c1e"/>
<path d="M379.6 649.6L380.6 644.9L381.8 649.6Z" fill="#b43e1e"/>
<path d="M381.3 649.8L381.9 648.2L383.3 649.8Z" fill="#9e9f1e"/>
<path d="M382.7 649.9L384.0 647.8L384.5 649.9Z" fill="#b5b41e"/>
<path d="M383.3 650.0L384.2 647.7L384.9 650.0Z" fill="#b4ad1e"/>
<path d="M385.4 650.2L386.3 646.5L387.1 650.2Z" fill="#934e1e"/>
<path d="M386.1 650.3L386.6 648.7L387.8 650.3Z" fill="#93941e"/>
<path d="M387.3 650.4L387.9 644.7L389.4 650.4Z" fill="#a5789d"/>
<path d="M387.7 650.5L389.1 648.0L390.3 650.5Z" fill="#bb8e1e"/>
<path d="M390.3 650.7L391.3 647.8L391.7 650.7Z" fill="#9b771e"/>
<path d="M391.6 650.9L392.0 649.1L393.0 650.9Z" fill="#8e8f1e"/>
<path d="M392.8 651.0L394.2 645.7L394.7 651.0Z" fill="#974956"/>
<path d="M393.7 651.1L394.6 647.8L395.3 651.1Z" fill="#a7971e"/>
<path d="M394.6 651.2L395.5 647.0L397.2 651.2Z" fill="#ae891e"/>
<path d="M396.7 651.4L397.7 648.6L397.9 651.4Z" fill="#b5951e"/>
<path d="M397.5 651.5L398.9 648.8L399.8 651.5Z" fill="#a57c1e"/>
<path d="M397.9 651.6L398.5 649.7L400.1 651.6Z" fill="#bbac1e"/>
<path d="M400.3 651.8L400.9 649.8L402.1 651.8Z" fill="#bca81e"/>
<path d="M400.5 651.9L402.0 646.7L403.0 651.9Z" fill="#9b461e"/>
<path d="M402.1 652.0L402.7 649.8L403.3 652.0Z" fill="#a39e1e"/>
<path d="M403.9 652.2L404.3 648.9L405.5 652.2Z" fill="#99741e"/>
<path d="M403.9 652.2L404.9 646.6L406.4 652.2Z" fill="#af5f73"/>
<path d="M405.9 652.4L406.8 649.6L408.4 652.4Z" fill="#ac821e"/>
<path d="M407.5 652.6L408.4 648.8L409.6 652.6Z" fill="#ad7e1e"/>
<path d="M407.8 652.6L408.9 648.4L410.1 652.6Z" fill="#bc4e1e"/>
<path d="M409.6 652.8L410.2 651.2L411.8 652.8Z" fill="#a29b1e"/>
<path d="M411.3 653.0L412.1 650.7L412.8 653.0Z" fill="#a1871e"/>
<path d="M412.0 653.1L413.1 650.6L414.3 653.1Z" fill="#998b1e"/>
<path d="M413.9 653.2L414.3 651.2L415.4 653.2Z" fill="#9e9b1e"/>
<path d="M414.1 653.3L415.1 650.2L416.9 653.3Z" fill="#9a8b1e"/>
<path d="M415.9 653.4L417.0 648.6L417.3 653.4Z" fill="#a2491e"/>
<path d="M416.8 653.6L417.7 647.6L419.4 653.6Z" fill="#b27fa4"/>
<path d="M418.0 653.7L418.9 647.9L419.5 653.7Z" fill="#aa641e"/>
<path d="M419.2 653.8L419.7 651.4L421.0 653.8Z" fill="#9f8c1e"/>
<path d="M420.6 654.0L422.2 651.9L423.2 654.0Z" fill="#90781e"/>
<path d="M422.2 654.1L423.1 652.2L424.3 654.1Z" fill="#b6b21e"/>
<path d="M423.1 654.3L424.1 652.4L425.7 654.3Z" fill="#b8b71e"/>
<path d="M424.4 654.4L425.8 650.6L426.3 654.4Z" fill="#964e1e"/>
<path d="M426.0 654.5L427.2 649.4L427.5 654.5Z" fill="#a54d1e"/>
<path d="M427.6 654.7L428.2 652.4L429.5 654.7Z" fill="#92881e"/>
<path d="M428.2 654.8L429.3 653.1L430.8 654.8Z" fill="#95961e"/>
<path d="M429.2 654.8L430.1 651.5L430.8 654.8Z" fill="#a36a1e"/>
<path d="M430.4 655.0L431.6 651.0L431.9 655.0Z" fill="#ba721e"/>
<path d="M431.9 655.2L432.8 652.6L434.0 655.2Z" fill="#bb951e"/>
<path d="M432.7 655.2L433.2 652.2L434.4 655.2Z" fill="#a57f1e"/>
<path d="M434.2 655.4L435.0 650.3L436.3 655.4Z" fill="#aa351e"/>
<path d="M435.4 655.5L435.7 652.5L436.9 655.5Z" fill="#b8881e"/>
<path d="M436.9 655.7L438.0 652.6L439.7 655.7Z" fill="#9f7d1e"/>
<path d="M438.7 655.8L439.9 654.2L440.2 655.8Z" fill="#b4b71e"/>
<path d="M439.7 656.0L440.4 652.6L441.4 656.0Z" fill="#b9721e"/>
<path d="M440.2 656.0L441.2 654.2L442.1 656.0Z" fill="#9c9c1e"/>
<path d="M442.5 656.3L443.8 652.9L444.2 656.3Z" fill="#96691e"/>
<path d="M442.3 656.3L443.8 653.3L444.7 656.3Z" fill="#8f661e"/>
<path d="M444.6 656.5L444.9 652.1L445.9 656.5Z" fill="#ba611e"/>
<path d="M446.1 656.6L446.7 653.9L448.0 656.6Z" fill="#a5961e"/>
<path d="M446.6 656.7L447.7 655.1L448.1 656.7Z" fill="#9f9e1e"/>
<path d="M447.5 656.8L448.7 654.9L449.9 656.8Z" fill="#928c1e"/>
<path d="M448.9 657.0L450.3 651.5L451.1 657.0Z" fill="#9b2b1f"/>
<path d="M451.0 657.2L451.5 653.8L452.8 657.2Z" fill="#9f5c1e"/>
<path d="M451.5 657.2L452.3 655.2L453.7 657.2Z" fill="#b1b01e"/>
<path d="M452.7 657.4L453.8 655.3L455.5 657.4Z" fill="#9a8c1e"/>
<path d="M454.2 657.5L454.7 654.2L455.9 657.5Z" fill="#b25d1e"/>
<path d="M455.0 657.6L455.8 656.0L456.9 657.6Z" fill="#9a9f1e"/>
<path d="M456.9 657.8L458.2 656.1L459.7 657.8Z" fill="#b9aa1e"/>
<path d="M457.7 657.9L458.7 655.2L460.2 657.9Z" fill="#91791e"/>
<path d="M459.7 658.1L460.8 656.5L461.9 658.1Z" fill="#a09a1e"/>
<path d="M460.5 658.2L461.2 656.6L462.4 658.2Z" fill="#a1991e"/>
<path d="M462.1 658.4L463.3 653.9L464.3 658.4Z" fill="#9b441e"/>
<path d="M463.3 658.5L464.3 656.8L465.2 658.5Z" fill="#94981e"/>
<path d="M463.7 658.5L464.4 656.8L465.7 658.5Z" fill="#a5a61e"/>
<path d="M465.3 658.7L466.5 653.8L467.2 658.7Z" fill="#bb7f1e"/>
<path d="M466.7 658.9L467.4 654.9L469.1 658.9Z" fill="#924e1e"/>
<path d="M467.7 658.9L468.1 654.0L469.0 658.9Z" fill="#b7691e"/>
<path d="M469.7 659.1L469.9 657.5L471.0 659.1Z" fill="#adac1e"/>
<path d="M470.8 659.3L471.8 656.2L472.9 659.3Z" fill="#92781e"/>
<path d="M472.1 659.4L472.5 657.1L473.9 659.4Z" fill="#91801e"/>
<path d="M472.8 659.5L474.2 656.3L474.9 659.5Z" fill="#a4911e"/>
<path d="M473.6 659.6L474.6 654.1L475.7 659.6Z" fill="#965870"/>
<path d="M474.8 659.7L476.5 657.0L477.3 659.7Z" fill="#a9931e"/>
<path d="M272.1 764.3L273.8 766.7L274.6 764.3Z" fill="#af9b00"/>
<path d="M273.4 764.6L275.5 766.5L277.1 764.6Z" fill="#75b300"/>
<path d="M275.9 764.9L277.3 767.9L279.1 764.9Z" fill="#8f8700"/>
<path d="M280.1 765.5L281.7 767.3L282.9 765.5Z" fill="#5a8b0d"/>
<path d="M282.5 766.0L284.3 767.4L286.4 766.0Z" fill="#969300"/>
<path d="M286.4 766.4L288.2 770.9L289.1 766.4Z" fill="#55bf0b"/>
<path d="M287.1 766.5L288.4 768.0L289.7 766.5Z" fill="#7cad00"/>
<path d="M290.2 767.0L291.1 768.8L292.8 767.0Z" fill="#4f9609"/>
<path d="M292.6 767.4L294.9 771.5L296.4 767.4Z" fill="#36ca11"/>
<path d="M296.2 767.8L296.9 770.0L298.2 767.8Z" fill="#748b00"/>
<path d="M297.3 768.2L299.9 772.5L301.9 768.2Z" fill="#41b910"/>
<path d="M302.4 768.8L304.0 770.6L305.6 768.8Z" fill="#478a10"/>
<path d="M303.6 769.0L305.3 774.1L307.2 769.0Z" fill="#adab00"/>
<path d="M305.1 769.3L307.6 773.9L309.7 769.3Z" fill="#8da700"/>
<path d="M309.5 769.8L310.8 772.4L311.9 769.8Z" fill="#699100"/>
<path d="M312.5 770.3L314.4 773.5L315.3 770.3Z" fill="#8e9200"/>
<path d="M314.4 770.6L315.6 774.2L317.7 770.6Z" fill="#94ab00"/>
<path d="M315.9 770.9L317.9 774.8L320.2 770.9Z" fill="#7ab500"/>
<path d="M318.9 771.3L320.9 773.1L323.4 771.3Z" fill="#7fab05"/>
<path d="M323.3 772.0L325.3 773.4L327.9 772.0Z" fill="#6cc909"/>
<path d="M324.2 772.1L326.3 773.4L328.7 772.1Z" fill="#42a910"/>
<path d="M327.0 772.5L329.2 775.6L331.0 772.5Z" fill="#4ea812"/>
<path d="M330.2 773.0L331.9 777.1L334.2 773.0Z" fill="#98a000"/>
<path d="M334.3 773.5L335.9 777.4L337.9 773.5Z" fill="#768a00"/>
<path d="M335.6 773.8L338.1 776.5L339.6 773.8Z" fill="#8fc900"/>
<path d="M338.9 774.1L340.4 776.3L341.1 774.1Z" fill="#a69b00"/>
<path d="M342.9 774.8L344.3 778.6L346.1 774.8Z" fill="#74c000"/>
<path d="M344.4 775.1L346.8 776.9L349.0 775.1Z" fill="#5da505"/>
<path d="M346.9 775.5L348.9 778.1L351.7 775.5Z" fill="#80ce00"/>
<path d="M349.1 775.7L350.6 777.8L352.1 775.7Z" fill="#4d9713"/>
<path d="M353.2 776.4L356.0 779.5L357.9 776.4Z" fill="#4fc00b"/>
<path d="M354.7 776.5L356.1 780.8L357.7 776.5Z" fill="#498714"/>
<path d="M357.6 777.0L359.1 781.7L361.5 777.0Z" fill="#629e0a"/>
<path d="M360.7 777.4L361.9 780.0L363.7 777.4Z" fill="#79be00"/>
<path d="M362.5 777.7L364.9 782.0L366.8 777.7Z" fill="#598d0b"/>
<path d="M366.7 778.2L367.9 782.2L369.8 778.2Z" fill="#859700"/>
<path d="M367.5 778.5L370.1 782.1L372.2 778.5Z" fill="#569105"/>
<path d="M372.9 779.1L374.6 783.1L375.7 779.1Z" fill="#748e00"/>
<path d="M375.7 779.6L377.3 780.9L379.2 779.6Z" fill="#708f00"/>
<path d="M377.8 780.0L380.0 783.6L382.1 780.0Z" fill="#398e14"/>
<path d="M379.5 780.2L381.0 782.9L383.4 780.2Z" fill="#44ab13"/>
<path d="M383.0 780.6L384.2 782.8L386.2 780.6Z" fill="#7c9500"/>
<path d="M385.1 780.9L386.4 783.4L387.3 780.9Z" fill="#8d9d00"/>
<path d="M387.1 781.3L389.2 786.1L390.8 781.3Z" fill="#6fc200"/>
<path d="M390.7 781.8L392.7 783.2L394.2 781.8Z" fill="#68be06"/>
<path d="M393.7 782.2L395.7 783.7L397.1 782.2Z" fill="#8ab600"/>
<path d="M395.1 782.4L396.5 783.7L398.2 782.4Z" fill="#82b800"/>
<path d="M398.1 782.8L399.8 784.3L401.3 782.8Z" fill="#8b9901"/>
<path d="M403.3 783.6L405.1 785.2L405.9 783.6Z" fill="#73aa00"/>
<path d="M405.4 783.9L406.8 786.5L408.1 783.9Z" fill="#5a9f08"/>
<path d="M406.6 784.1L408.5 785.5L410.4 784.1Z" fill="#60a20e"/>
<path d="M408.1 784.4L410.7 786.1L412.8 784.4Z" fill="#60ca01"/>
<path d="M411.4 784.9L413.3 787.9L415.3 784.9Z" fill="#40b413"/>
<path d="M413.9 785.2L416.1 788.2L417.4 785.2Z" fill="#4ebf0a"/>
<path d="M416.5 785.6L418.6 787.6L420.7 785.6Z" fill="#81bb00"/>
<path d="M421.2 786.3L423.8 789.1L425.4 786.3Z" fill="#7bd000"/>
<path d="M422.2 786.4L423.6 788.5L425.6 786.4Z" fill="#768b00"/>
<path d="M425.5 786.9L426.9 790.8L429.1 786.9Z" fill="#72af00"/>
<path d="M429.2 787.3L430.1 791.4L431.3 787.3Z" fill="#7aa100"/>
<path d="M430.0 787.6L432.2 789.6L434.2 787.6Z" fill="#57be0d"/>
<path d="M434.6 788.2L435.6 789.5L437.2 788.2Z" fill="#77cc00"/>
<path d="M436.8 788.5L438.4 791.1L439.6 788.5Z" fill="#828700"/>
<path d="M438.1 788.8L440.5 793.3L442.7 788.8Z" fill="#849300"/>
<path d="M441.7 789.3L443.3 793.0L445.6 789.3Z" fill="#3a9312"/>
<path d="M446.0 789.9L448.0 794.5L449.5 789.9Z" fill="#44980d"/>
<path d="M447.6 790.2L449.5 791.8L451.8 790.2Z" fill="#75b600"/>
<path d="M450.3 790.5L452.5 793.1L453.8 790.5Z" fill="#5cad06"/>
<path d="M452.1 790.9L454.1 792.3L456.7 790.9Z" fill="#389715"/>
<path d="M455.0 791.2L456.7 795.0L459.0 791.2Z" fill="#559212"/>
<path d="M459.5 791.9L461.5 795.2L464.0 791.9Z" fill="#7ba700"/>
<g font-family="'Liberation Sans',sans-serif" font-size="7.61" fill="#333" text-anchor="middle">
<text transform="translate(322.2 634.0) rotate(-61) skewX(-8)" y="2.7">0</text>
<text transform="translate(316.1 646.0) rotate(-61) skewX(-8)" y="2.7">0.2</text>
<text transform="translate(309.7 658.6) rotate(-61) skewX(-8)" y="2.7">0.4</text>
<text transform="translate(302.9 672.1) rotate(-61) skewX(-8)" y="2.7">0.6</text>
<text transform="translate(295.7 686.4) rotate(-61) skewX(-8)" y="2.7">0.8</text>
<text transform="translate(288.0 701.7) rotate(-61) skewX(-8)" y="2.7">1</text>
<text transform="translate(279.8 717.9) rotate(-61) skewX(-8)" y="2.7">1.2</text>
<text transform="translate(271.1 735.3) rotate(-61) skewX(-8)" y="2.7">1.4</text>
<text transform="translate(281.2 683.8) rotate(-63) skewX(-8)" y="2.3">mm</text>
<text transform="translate(270.3 779.1) rotate(8.5) skewX(-14)" y="2.7">0</text>
<text transform="translate(295.7 782.9) rotate(8.5) skewX(-14)" y="2.7">0.2</text>
<text transform="translate(321.7 786.8) rotate(8.5) skewX(-14)" y="2.7">0.4</text>
<text transform="translate(348.3 790.7) rotate(8.5) skewX(-14)" y="2.7">0.6</text>
<text transform="translate(375.3 794.8) rotate(8.5) skewX(-14)" y="2.7">0.8</text>
<text transform="translate(402.9 798.9) rotate(8.5) skewX(-14)" y="2.7">1</text>
<text transform="translate(431.1 803.1) rotate(8.5) skewX(-14)" y="2.7">1.2</text>
<text transform="translate(459.8 807.3) rotate(8.5) skewX(-14)" y="2.7">1.4</text>
<text transform="translate(357.7 810.2) rotate(8.5) skewX(-14)" y="2.3">mm</text>
<text x="255.4" y="760.3">10</text>
<text x="260.6" y="783.0">0</text>
<text transform="translate(220.2 782.9) rotate(80)" y="2.3">µm</text>
</g>
<path d="M327.1 636.9L268.8 757.2L271.2 771.4L460.7 799.6" fill="none" stroke="#3a3a3a" stroke-width="0.9" stroke-linejoin="round"/>
<path d="M327.1 636.9L324.3 636.6M324.2 642.9L322.8 642.8M321.2 649.0L318.4 648.8M318.2 655.4L316.8 655.2M315.0 661.9L312.2 661.6M311.7 668.6L310.3 668.5M308.4 675.5L305.6 675.3M304.9 682.7L303.5 682.5M301.3 690.0L298.5 689.8M297.7 697.6L296.3 697.5M293.9 705.5L291.0 705.2M289.9 713.6L288.5 713.4M285.9 721.9L283.1 721.7M281.7 730.6L280.3 730.5M277.3 739.6L274.5 739.3M272.8 748.8L271.4 748.7M271.2 771.4L270.8 774.4M283.9 773.3L283.7 774.9M296.6 775.2L296.3 778.2M309.6 777.1L309.4 778.7M322.6 779.1L322.3 782.1M335.8 781.0L335.6 782.6M349.2 783.0L348.8 786.0M362.6 785.0L362.4 786.6M376.2 787.0L375.9 790.1M390.0 789.1L389.8 790.7M403.9 791.2L403.5 794.2M417.9 793.2L417.7 794.8M432.0 795.3L431.6 798.4M446.3 797.5L446.1 799.1M460.7 799.6L460.3 802.6M268.8 757.2L264.8 758.5M271.2 771.4L267.6 772.6" fill="none" stroke="#3a3a3a" stroke-width="0.8"/>
<rect x="579.6" y="634.5" width="9.0" height="182.8" fill="url(#cbg)"/>
<path d="M579.6 817.3V634.5H588.6V817.3" fill="none" stroke="#555" stroke-width="1"/>
<g font-family="'Liberation Sans',sans-serif" font-size="8.6" fill="#383838">
<text x="594.6" y="820.4">0</text>
<text x="594.6" y="802.1">1</text>
<text x="594.6" y="783.8">2</text>
<text x="594.6" y="765.6">3</text>
<text x="594.6" y="747.3">4</text>
<text x="594.6" y="729.0">5</text>
<text x="594.6" y="710.7">6</text>
<text x="594.6" y="692.4">7</text>
<text x="594.6" y="674.2">8</text>
<text x="594.6" y="655.9">9</text>
<text x="594.6" y="630.9">µm</text>
</g>
<path d="M588.6 817.3H592.8M588.6 799.0H592.8M588.6 780.7H592.8M588.6 762.5H592.8M588.6 744.2H592.8M588.6 725.9H592.8M588.6 707.6H592.8M588.6 689.3H592.8M588.6 671.1H592.8M588.6 652.8H592.8M588.6 634.5H592.8" fill="none" stroke="#555" stroke-width="1"/>
</svg></body></html>
